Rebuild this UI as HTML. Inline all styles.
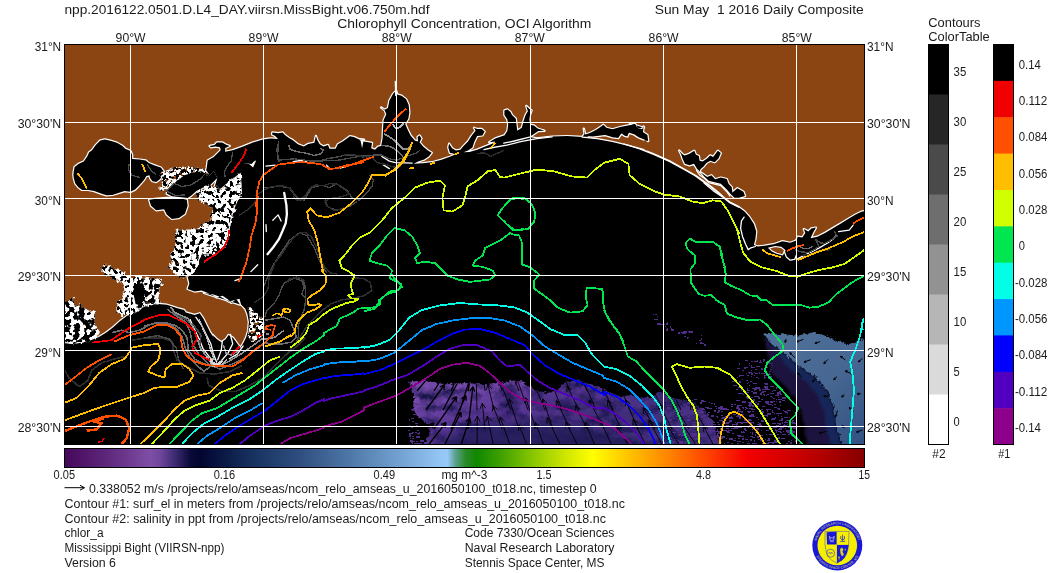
<!DOCTYPE html>
<html><head><meta charset="utf-8"><title>npp.2016122.0501.D.L4_DAY.viirsn.MissBight</title>
<style>html,body{margin:0;padding:0;background:#fff}body{width:1058px;height:573px;overflow:hidden}svg{display:block}text{font-family:"Liberation Sans",sans-serif;fill:#1a1a1a}</style></head><body>
<svg width="1058" height="573" viewBox="0 0 1058 573">
<defs>
<clipPath id="mapclip"><rect x="65" y="45" width="799" height="399"/></clipPath>
<linearGradient id="cb" x1="0" x2="1" y1="0" y2="0">
<stop offset="0.0000" stop-color="#46075a"/>
<stop offset="0.0575" stop-color="#602a7e"/>
<stop offset="0.1075" stop-color="#7e4ea6"/>
<stop offset="0.1200" stop-color="#6f459c"/>
<stop offset="0.1388" stop-color="#3a2a70"/>
<stop offset="0.1575" stop-color="#0a0a38"/>
<stop offset="0.1700" stop-color="#020530"/>
<stop offset="0.2325" stop-color="#16305e"/>
<stop offset="0.2950" stop-color="#2f4f80"/>
<stop offset="0.3575" stop-color="#4f78a8"/>
<stop offset="0.4200" stop-color="#73a2d2"/>
<stop offset="0.4700" stop-color="#93c5f5"/>
<stop offset="0.4788" stop-color="#96c8fa"/>
<stop offset="0.4888" stop-color="#5aa08c"/>
<stop offset="0.5012" stop-color="#2a8a2a"/>
<stop offset="0.5150" stop-color="#0f8800"/>
<stop offset="0.5450" stop-color="#3fa000"/>
<stop offset="0.5875" stop-color="#8cc800"/>
<stop offset="0.6262" stop-color="#cfe600"/>
<stop offset="0.6600" stop-color="#ffff00"/>
<stop offset="0.7013" stop-color="#ffc800"/>
<stop offset="0.7488" stop-color="#ff8c00"/>
<stop offset="0.8013" stop-color="#ff4600"/>
<stop offset="0.8525" stop-color="#f40000"/>
<stop offset="0.9200" stop-color="#c80000"/>
<stop offset="1.0000" stop-color="#860000"/>
</linearGradient>
</defs>
<g id="txt" opacity="0.999">
<text x="64.5" y="14.2" font-size="13" textLength="365" lengthAdjust="spacingAndGlyphs" xml:space="preserve">npp.2016122.0501.D.L4_DAY.viirsn.MissBight.v06.750m.hdf</text>
<text x="863.7" y="14.2" font-size="13" text-anchor="end" textLength="209" lengthAdjust="spacingAndGlyphs" xml:space="preserve">Sun May  1 2016 Daily Composite</text>
<text x="464.3" y="27.6" font-size="13" text-anchor="middle" textLength="254" lengthAdjust="spacingAndGlyphs" xml:space="preserve">Chlorophyll Concentration, OCI Algorithm</text>
<text x="130.6" y="42" font-size="12" text-anchor="middle" textLength="30" lengthAdjust="spacingAndGlyphs" xml:space="preserve">90°W</text>
<text x="263.6" y="42" font-size="12" text-anchor="middle" textLength="30" lengthAdjust="spacingAndGlyphs" xml:space="preserve">89°W</text>
<text x="396.7" y="42" font-size="12" text-anchor="middle" textLength="30" lengthAdjust="spacingAndGlyphs" xml:space="preserve">88°W</text>
<text x="529.8" y="42" font-size="12" text-anchor="middle" textLength="30" lengthAdjust="spacingAndGlyphs" xml:space="preserve">87°W</text>
<text x="663.6" y="42" font-size="12" text-anchor="middle" textLength="30" lengthAdjust="spacingAndGlyphs" xml:space="preserve">86°W</text>
<text x="796.8" y="42" font-size="12" text-anchor="middle" textLength="30" lengthAdjust="spacingAndGlyphs" xml:space="preserve">85°W</text>
<text x="61.2" y="50.8" font-size="12" text-anchor="end" textLength="26.5" lengthAdjust="spacingAndGlyphs" xml:space="preserve">31°N</text>
<text x="867" y="50.8" font-size="12" textLength="26.5" lengthAdjust="spacingAndGlyphs" xml:space="preserve">31°N</text>
<text x="61.2" y="128" font-size="12" text-anchor="end" textLength="43.5" lengthAdjust="spacingAndGlyphs" xml:space="preserve">30°30'N</text>
<text x="867" y="128" font-size="12" textLength="43.5" lengthAdjust="spacingAndGlyphs" xml:space="preserve">30°30'N</text>
<text x="61.2" y="205" font-size="12" text-anchor="end" textLength="26.5" lengthAdjust="spacingAndGlyphs" xml:space="preserve">30°N</text>
<text x="867" y="205" font-size="12" textLength="26.5" lengthAdjust="spacingAndGlyphs" xml:space="preserve">30°N</text>
<text x="61.2" y="281" font-size="12" text-anchor="end" textLength="43.5" lengthAdjust="spacingAndGlyphs" xml:space="preserve">29°30'N</text>
<text x="867" y="281" font-size="12" textLength="43.5" lengthAdjust="spacingAndGlyphs" xml:space="preserve">29°30'N</text>
<text x="61.2" y="357" font-size="12" text-anchor="end" textLength="26.5" lengthAdjust="spacingAndGlyphs" xml:space="preserve">29°N</text>
<text x="867" y="357" font-size="12" textLength="26.5" lengthAdjust="spacingAndGlyphs" xml:space="preserve">29°N</text>
<text x="61.2" y="432" font-size="12" text-anchor="end" textLength="43.5" lengthAdjust="spacingAndGlyphs" xml:space="preserve">28°30'N</text>
<text x="867" y="432" font-size="12" textLength="43.5" lengthAdjust="spacingAndGlyphs" xml:space="preserve">28°30'N</text>
<text x="64.3" y="479.3" font-size="12" text-anchor="middle" textLength="21.5" lengthAdjust="spacingAndGlyphs" xml:space="preserve">0.05</text>
<text x="224.4" y="479.3" font-size="12" text-anchor="middle" textLength="21.5" lengthAdjust="spacingAndGlyphs" xml:space="preserve">0.16</text>
<text x="384.3" y="479.3" font-size="12" text-anchor="middle" textLength="21.5" lengthAdjust="spacingAndGlyphs" xml:space="preserve">0.49</text>
<text x="464.4" y="479.3" font-size="12" text-anchor="middle" textLength="46" lengthAdjust="spacingAndGlyphs" xml:space="preserve">mg m^-3</text>
<text x="543.9" y="479.3" font-size="12" text-anchor="middle" textLength="15" lengthAdjust="spacingAndGlyphs" xml:space="preserve">1.5</text>
<text x="703.6" y="479.3" font-size="12" text-anchor="middle" textLength="15" lengthAdjust="spacingAndGlyphs" xml:space="preserve">4.8</text>
<text x="864.2" y="479.3" font-size="12" text-anchor="middle" textLength="11.5" lengthAdjust="spacingAndGlyphs" xml:space="preserve">15</text>
<text x="89" y="493" font-size="12" textLength="507.6" lengthAdjust="spacingAndGlyphs" xml:space="preserve">0.338052 m/s /projects/relo/amseas/ncom_relo_amseas_u_2016050100_t018.nc, timestep 0</text>
<text x="64.5" y="507.7" font-size="12" textLength="560.4" lengthAdjust="spacingAndGlyphs" xml:space="preserve">Contour #1: surf_el in meters from /projects/relo/amseas/ncom_relo_amseas_u_2016050100_t018.nc</text>
<text x="64.5" y="522.5" font-size="12" textLength="541.4" lengthAdjust="spacingAndGlyphs" xml:space="preserve">Contour #2: salinity in ppt from /projects/relo/amseas/ncom_relo_amseas_u_2016050100_t018.nc</text>
<text x="64.5" y="537.3" font-size="12" textLength="39" lengthAdjust="spacingAndGlyphs" xml:space="preserve">chlor_a</text>
<text x="64.5" y="552.3" font-size="12" textLength="160" lengthAdjust="spacingAndGlyphs" xml:space="preserve">Mississippi Bight (VIIRSN-npp)</text>
<text x="64.5" y="567.1" font-size="12" textLength="51.5" lengthAdjust="spacingAndGlyphs" xml:space="preserve">Version 6</text>
<text x="464.7" y="537.3" font-size="12" textLength="149.7" lengthAdjust="spacingAndGlyphs" xml:space="preserve">Code 7330/Ocean Sciences</text>
<text x="464.7" y="552.3" font-size="12" textLength="149.7" lengthAdjust="spacingAndGlyphs" xml:space="preserve">Naval Research Laboratory</text>
<text x="464.7" y="567.1" font-size="12" textLength="139.8" lengthAdjust="spacingAndGlyphs" xml:space="preserve">Stennis Space Center, MS</text>
<text x="928.3" y="26.6" font-size="12" textLength="52.2" lengthAdjust="spacingAndGlyphs" xml:space="preserve">Contours</text>
<text x="928.3" y="40.9" font-size="12" textLength="61.4" lengthAdjust="spacingAndGlyphs" xml:space="preserve">ColorTable</text>
<text x="939" y="458.4" font-size="12" text-anchor="middle" textLength="13.3" lengthAdjust="spacingAndGlyphs" xml:space="preserve">#2</text>
<text x="1004.3" y="458.4" font-size="12" text-anchor="middle" textLength="12" lengthAdjust="spacingAndGlyphs" xml:space="preserve">#1</text>
<text x="953.6" y="75.7" font-size="12" textLength="12.7" lengthAdjust="spacingAndGlyphs" xml:space="preserve">35</text>
<text x="953.6" y="125.7" font-size="12" textLength="12.7" lengthAdjust="spacingAndGlyphs" xml:space="preserve">30</text>
<text x="953.6" y="175.7" font-size="12" textLength="12.7" lengthAdjust="spacingAndGlyphs" xml:space="preserve">25</text>
<text x="953.6" y="225.7" font-size="12" textLength="12.7" lengthAdjust="spacingAndGlyphs" xml:space="preserve">20</text>
<text x="953.6" y="275.7" font-size="12" textLength="12.7" lengthAdjust="spacingAndGlyphs" xml:space="preserve">15</text>
<text x="953.6" y="325.7" font-size="12" textLength="12.7" lengthAdjust="spacingAndGlyphs" xml:space="preserve">10</text>
<text x="953.6" y="375.7" font-size="12" textLength="6.2" lengthAdjust="spacingAndGlyphs" xml:space="preserve">5</text>
<text x="953.6" y="425.7" font-size="12" textLength="6.2" lengthAdjust="spacingAndGlyphs" xml:space="preserve">0</text>
<text x="1018.8" y="68.6" font-size="12" textLength="22" lengthAdjust="spacingAndGlyphs" xml:space="preserve">0.14</text>
<text x="1018.8" y="104.96" font-size="12" textLength="28.5" lengthAdjust="spacingAndGlyphs" xml:space="preserve">0.112</text>
<text x="1018.8" y="141.32" font-size="12" textLength="28.5" lengthAdjust="spacingAndGlyphs" xml:space="preserve">0.084</text>
<text x="1018.8" y="177.68" font-size="12" textLength="28.5" lengthAdjust="spacingAndGlyphs" xml:space="preserve">0.056</text>
<text x="1018.8" y="214.04" font-size="12" textLength="28.5" lengthAdjust="spacingAndGlyphs" xml:space="preserve">0.028</text>
<text x="1018.8" y="250.4" font-size="12" textLength="6.2" lengthAdjust="spacingAndGlyphs" xml:space="preserve">0</text>
<text x="1014.9" y="286.76" font-size="12" textLength="32.5" lengthAdjust="spacingAndGlyphs" xml:space="preserve">-0.028</text>
<text x="1014.9" y="323.12" font-size="12" textLength="32.5" lengthAdjust="spacingAndGlyphs" xml:space="preserve">-0.056</text>
<text x="1014.9" y="359.48" font-size="12" textLength="32.5" lengthAdjust="spacingAndGlyphs" xml:space="preserve">-0.084</text>
<text x="1014.9" y="395.84000000000003" font-size="12" textLength="32.5" lengthAdjust="spacingAndGlyphs" xml:space="preserve">-0.112</text>
<text x="1014.9" y="432.20000000000005" font-size="12" textLength="26" lengthAdjust="spacingAndGlyphs" xml:space="preserve">-0.14</text>
</g>
<path d="M64.5,487.7H84" stroke="#000" stroke-width="1" fill="none"/><path d="M80,485.3L84.6,487.7L80,490.1" stroke="#000" stroke-width="1" fill="none"/>
<rect x="64.5" y="448.5" width="800" height="19" fill="url(#cb)" stroke="#000" stroke-width="1"/>
<rect x="928" y="44.5" width="21" height="50.5" fill="#000000"/>
<rect x="928" y="94.5" width="21" height="50.5" fill="#262626"/>
<rect x="928" y="144.5" width="21" height="50.5" fill="#4a4a4a"/>
<rect x="928" y="194.5" width="21" height="50.5" fill="#6e6e6e"/>
<rect x="928" y="244.5" width="21" height="50.5" fill="#929292"/>
<rect x="928" y="294.5" width="21" height="50.5" fill="#b6b6b6"/>
<rect x="928" y="344.5" width="21" height="50.5" fill="#dadada"/>
<rect x="928" y="394.5" width="21" height="50.5" fill="#ffffff"/>
<rect x="928.5" y="44.5" width="20" height="400" fill="none" stroke="#000" stroke-width="1"/>
<rect x="993" y="44.50" width="21" height="36.9" fill="#000000"/>
<rect x="993" y="80.86" width="21" height="36.9" fill="#f00000"/>
<rect x="993" y="117.23" width="21" height="36.9" fill="#ff5000"/>
<rect x="993" y="153.59" width="21" height="36.9" fill="#ffbe00"/>
<rect x="993" y="189.96" width="21" height="36.9" fill="#d2ff00"/>
<rect x="993" y="226.32" width="21" height="36.9" fill="#00e650"/>
<rect x="993" y="262.68" width="21" height="36.9" fill="#00ffe6"/>
<rect x="993" y="299.05" width="21" height="36.9" fill="#0096ff"/>
<rect x="993" y="335.41" width="21" height="36.9" fill="#0000ff"/>
<rect x="993" y="371.78" width="21" height="36.9" fill="#5000be"/>
<rect x="993" y="408.14" width="21" height="36.9" fill="#8c008c"/>
<rect x="993.5" y="44.5" width="20" height="400" fill="none" stroke="#000" stroke-width="1"/>
<rect x="64" y="44" width="801" height="401" fill="#8B4513"/>
<g clip-path="url(#mapclip)">
<path d="M73.8,171.4 L74.6,166.9 L78.4,163.9 L83.7,161.6 L87.4,156.3 L89,152.5 L92,150.2 L95.8,145 L100.3,140.4 L104.8,139.4 L109.4,140.4 L116.9,142.7 L122.2,145.7 L125.2,148.7 L130.5,151 L132.1,154.8 L132.1,159 L139.6,159.6 L145.7,160.5 L148.7,163.1 L154.7,165.4 L160.8,167.6 L163.8,171.4 L163.1,175.2 L159.3,179.7 L156.2,182 L152.5,181.2 L150.2,178.2 L149.4,175.2 L146.4,176 L144.2,179.7 L139.6,185 L135.1,189.6 L130.5,191.8 L124.5,191.1 L120,192.6 L112.4,194.9 L106.3,195.3 L100.3,193.3 L94.2,191.1 L88.2,189.9 L82.1,189.9 L78.4,187.3 L75.3,183.5 L73.8,178.2 L73.4,174.4Z" fill="#000" stroke="#fff" stroke-width="2.4" stroke-linejoin="round"/>
<path d="M166.7,193.6 L168.4,188.4 L173.7,184 L178.9,178.8 L184.1,174.4 L192.9,171.8 L201.6,170.1 L205.1,174.4 L208.6,176.2 L213.8,170.9 L217.3,177.9 L210.3,184.9 L203.3,187.5 L196.4,191 L191.1,195.7 L187.6,198 L178.9,197.1 L171.9,196.2Z" fill="#000" stroke="#fff" stroke-width="2.4" stroke-linejoin="round"/>
<path d="M149.2,199.7 L154.5,198.9 L166.7,198 L178.9,198 L186.8,199.7 L187.6,205.8 L185,213.7 L178.9,218.1 L171.9,218.9 L166.7,214.6 L164.1,209.3 L156.2,210.2 L151,205.8Z" fill="#000" stroke="#fff" stroke-width="2.4" stroke-linejoin="round"/>
<path d="M62.6,343.2 L74.5,344 L83.2,342.3 L90.2,340.5 L98.9,337 L105.9,332.7 L112.9,327.4 L119.8,321.3 L126.8,316.1 L133.8,311.7 L140.8,308.2 L149.5,304.8 L158.2,303.9 L167,304.8 L172.2,306.5 L177.4,308.2 L184.1,310 L185.9,312.4 L194.6,315 L199.8,313.3 L203.3,318.5 L206.8,325.5 L210.3,332.5 L213.8,337.7 L212.7,334.9 L217,339.3 L221.4,342.2 L225.7,339.3 L228.6,334.9 L233,337.8 L237.3,343.6 L240.2,348 L243.1,343.6 L246,337.8 L248.2,330.6 L248.9,321.9 L247.5,314.6 L245.3,308.8 L241,304.5 L239.5,298.7 L235.2,300.1 L228.6,301.6 L221.4,297.2 L212.7,294.3 L204,292.9 L240,304.6 L236.5,299.3 L231.3,302.8 L227.8,299.3 L222.5,295.8 L217.3,297.6 L210.3,294.1 L201.6,290.6 L194.6,291.5 L187.6,288.9 L189.4,283.6 L187.6,276.6 L195.5,269.7 L198.1,262.7 L203.3,250.5 L208.6,240 L220.8,250 L227.8,240.8 L229.5,230.3 L231.3,219.8 L234.8,207.6 L241.7,191.9 L240.9,172.7 L231.3,179.7 L220.8,188.4 L213.8,190.1 L217.3,177.9 L213.8,170.9 L208.6,176.2 L205.1,174.4 L206.8,167.5 L207.7,160.5 L213.8,157 L220.8,150 L219.9,147.2 L215.3,146.5 L210.8,147.2 L209.7,146 L214.6,145 L216.9,142.4 L222.1,142.4 L226.7,145 L229.7,146 L225.2,148 L225.2,151.8 L232.7,150.2 L241.8,146.9 L252.4,142.7 L263,139.4 L270.5,138.4 L278.1,138.9 L275.1,135.9 L272.1,134.4 L272.4,132.4 L278.1,133.3 L282.6,132.4 L284.9,135.1 L288.7,137.8 L293.2,140.4 L297.8,144.2 L303.8,146.5 L308.3,143.9 L314.4,142.7 L315.9,135.9 L317.1,139.7 L319.7,144.2 L323.5,146.5 L328,145 L329.5,148.7 L335.6,148.7 L337.8,144.2 L343.1,141.2 L346.2,138.9 L349.9,136.3 L353.7,136.9 L358.3,138.9 L364,139.7 L347,138.4 L350.8,136.6 L356.1,138.1 L360.6,140.7 L362.1,148.2 L363.4,141.4 L368.2,142.2 L372,142.9 L371.2,148.2 L375,149.7 L378,146.7 L381.1,146 L382.6,138.4 L383,129.3 L383.6,120.2 L386.3,114.2 L384.8,110.4 L381.1,107.4 L384.8,109.7 L387.9,108.1 L389.4,100.6 L393.1,93.8 L396.2,90.8 L397.2,94.5 L401.5,95.7 L406,99.1 L408.7,105.1 L409.3,112.7 L408.3,118.7 L405.2,124 L407.5,129.3 L410.5,135.4 L415.1,140.7 L418.1,141.4 L417.6,136.9 L419.6,135.4 L421.4,138.4 L419.6,142.2 L423.4,146.7 L427.9,150.5 L431.7,152.8 L428.7,156.5 L424.2,159.6 L418.1,161.4 L413.6,163.8 L422.6,163.3 L431.7,162.3 L440.8,159.9 L449.9,156.8 L455.9,154.3 L449.9,152.8 L448.3,147.5 L449.1,143.7 L452.1,148.2 L455.9,150.5 L460.4,149.7 L463.5,146 L468,141.4 L471.8,135.4 L475.6,130.8 L474.1,127.8 L477.1,129 L481.6,129 L484.6,131.6 L482.4,135.4 L477.1,136.1 L474.1,142.2 L472.5,147.5 L468,150.5 L463.5,152.3 L469.5,152 L477.1,149.7 L484.6,146.7 L492.2,143.7 L495.2,141.4 L489.2,142.2 L495.2,138.4 L504,135.4 L504.4,135.4 L507.4,130.8 L508.2,124.8 L507.4,119.5 L504.4,115 L504.4,110.4 L507.4,109.4 L510.5,111.9 L512,115 L515.8,118.7 L516.5,124.8 L517.3,130.8 L521.8,127.8 L523.6,121 L525.6,115 L527.9,111.2 L526.3,105.9 L529.4,108.9 L531.6,110.4 L530.1,114.2 L529.4,119.5 L530.1,124.8 L533.9,125.5 L537.7,128.6 L544.5,130.8 L538.4,131.1 L533.9,133.9 L529.4,136.9 L536.9,138.4 L552.1,136.6 L567.2,136.1 L582.3,136.9 L584.6,133.9 L583.8,128.6 L585.3,134.6 L589.9,133.1 L595.9,130.1 L600.4,127.1 L603.5,124.8 L606.5,127.8 L612.5,129.3 L620.1,127.1 L627.7,125.5 L632.2,124.8 L635.2,124 L636.7,127.1 L641.3,129.3 L644,127.8 L630,123.6 L635.3,124.4 L639.1,128.9 L643.7,126.6 L642.9,131.9 L647.4,135 L648.2,141 L643.7,140.2 L637.6,138 L631.6,134.2 L628.5,134.2 L629.3,138.7 L624,137.2 L624,144 L639.1,148.6 L654.2,154.6 L669.4,161.4 L684.5,169.7 L695.1,175.8 L702.6,181.1 L710.2,186.4 L717.8,192.4 L722.1,196.6 L729.7,202.7 L738.8,207.2 L744.8,211.8 L749.4,217.1 L753.9,223.9 L756.2,231.4 L755.4,239 L753.9,245 L757.7,246.5 L764.5,245.8 L773.6,244.3 L782.6,241.2 L790.2,242.8 L796.2,240.5 L797.8,236.7 L802.3,237.5 L805.3,232.9 L803.8,229.1 L808.3,231.4 L811.4,228.4 L815.9,227.6 L812.9,232.9 L810.6,238.2 L817.4,236.7 L825,232.9 L832.5,228.4 L840.1,223.9 L847.7,219.3 L855.2,214.8 L861.3,211.8 L865.8,211 L870,450 L58,450Z" fill="#000" stroke="#fff" stroke-width="2.4" stroke-linejoin="round"/>
<path d="M679.2,150.5 L682.2,153.9 L684.5,155.4 L689,153.9 L694.3,150.8 L695.8,154.6 L698.9,156.1 L699.6,160.7 L702.6,161.4 L707.2,158.4 L710.2,155.4 L713.2,156.9 L717.8,150.8 L720.8,153.1 L718.5,158.4 L714.7,162.2 L710.2,160.7 L706.4,162.9 L703.4,166.7 L700.4,169.3 L699.6,171.7 L703.4,174.3 L707.2,177 L711.4,175.3 L715.2,179.3 L720.8,177.6 L726.8,179.1 L728.7,184.1 L731.7,187.1 L732.4,192.4 L737.4,188.2 L743.5,191.7 L745,196 L738.9,197.7 L734.4,197.7 L729.9,193.2 L726.8,189.4 L720.8,183.8 L714.7,182.3 L708.7,180.8 L704.2,176.5 L700.1,171.7 L697,168.8 L694,163.8 L689.5,165.3 L684.9,163.8 L682.7,159 L681.2,154.5Z" fill="#000" stroke="#fff" stroke-width="2.4" stroke-linejoin="round"/>
<path d="M73.8,171.4 L74.6,166.9 L78.4,163.9 L83.7,161.6 L87.4,156.3 L89,152.5 L92,150.2 L95.8,145 L100.3,140.4 L104.8,139.4 L109.4,140.4 L116.9,142.7 L122.2,145.7 L125.2,148.7 L130.5,151 L132.1,154.8 L132.1,159 L139.6,159.6 L145.7,160.5 L148.7,163.1 L154.7,165.4 L160.8,167.6 L163.8,171.4 L163.1,175.2 L159.3,179.7 L156.2,182 L152.5,181.2 L150.2,178.2 L149.4,175.2 L146.4,176 L144.2,179.7 L139.6,185 L135.1,189.6 L130.5,191.8 L124.5,191.1 L120,192.6 L112.4,194.9 L106.3,195.3 L100.3,193.3 L94.2,191.1 L88.2,189.9 L82.1,189.9 L78.4,187.3 L75.3,183.5 L73.8,178.2 L73.4,174.4Z" fill="#000"/>
<path d="M166.7,193.6 L168.4,188.4 L173.7,184 L178.9,178.8 L184.1,174.4 L192.9,171.8 L201.6,170.1 L205.1,174.4 L208.6,176.2 L213.8,170.9 L217.3,177.9 L210.3,184.9 L203.3,187.5 L196.4,191 L191.1,195.7 L187.6,198 L178.9,197.1 L171.9,196.2Z" fill="#000"/>
<path d="M149.2,199.7 L154.5,198.9 L166.7,198 L178.9,198 L186.8,199.7 L187.6,205.8 L185,213.7 L178.9,218.1 L171.9,218.9 L166.7,214.6 L164.1,209.3 L156.2,210.2 L151,205.8Z" fill="#000"/>
<path d="M62.6,343.2 L74.5,344 L83.2,342.3 L90.2,340.5 L98.9,337 L105.9,332.7 L112.9,327.4 L119.8,321.3 L126.8,316.1 L133.8,311.7 L140.8,308.2 L149.5,304.8 L158.2,303.9 L167,304.8 L172.2,306.5 L177.4,308.2 L184.1,310 L185.9,312.4 L194.6,315 L199.8,313.3 L203.3,318.5 L206.8,325.5 L210.3,332.5 L213.8,337.7 L212.7,334.9 L217,339.3 L221.4,342.2 L225.7,339.3 L228.6,334.9 L233,337.8 L237.3,343.6 L240.2,348 L243.1,343.6 L246,337.8 L248.2,330.6 L248.9,321.9 L247.5,314.6 L245.3,308.8 L241,304.5 L239.5,298.7 L235.2,300.1 L228.6,301.6 L221.4,297.2 L212.7,294.3 L204,292.9 L240,304.6 L236.5,299.3 L231.3,302.8 L227.8,299.3 L222.5,295.8 L217.3,297.6 L210.3,294.1 L201.6,290.6 L194.6,291.5 L187.6,288.9 L189.4,283.6 L187.6,276.6 L195.5,269.7 L198.1,262.7 L203.3,250.5 L208.6,240 L220.8,250 L227.8,240.8 L229.5,230.3 L231.3,219.8 L234.8,207.6 L241.7,191.9 L240.9,172.7 L231.3,179.7 L220.8,188.4 L213.8,190.1 L217.3,177.9 L213.8,170.9 L208.6,176.2 L205.1,174.4 L206.8,167.5 L207.7,160.5 L213.8,157 L220.8,150 L219.9,147.2 L215.3,146.5 L210.8,147.2 L209.7,146 L214.6,145 L216.9,142.4 L222.1,142.4 L226.7,145 L229.7,146 L225.2,148 L225.2,151.8 L232.7,150.2 L241.8,146.9 L252.4,142.7 L263,139.4 L270.5,138.4 L278.1,138.9 L275.1,135.9 L272.1,134.4 L272.4,132.4 L278.1,133.3 L282.6,132.4 L284.9,135.1 L288.7,137.8 L293.2,140.4 L297.8,144.2 L303.8,146.5 L308.3,143.9 L314.4,142.7 L315.9,135.9 L317.1,139.7 L319.7,144.2 L323.5,146.5 L328,145 L329.5,148.7 L335.6,148.7 L337.8,144.2 L343.1,141.2 L346.2,138.9 L349.9,136.3 L353.7,136.9 L358.3,138.9 L364,139.7 L347,138.4 L350.8,136.6 L356.1,138.1 L360.6,140.7 L362.1,148.2 L363.4,141.4 L368.2,142.2 L372,142.9 L371.2,148.2 L375,149.7 L378,146.7 L381.1,146 L382.6,138.4 L383,129.3 L383.6,120.2 L386.3,114.2 L384.8,110.4 L381.1,107.4 L384.8,109.7 L387.9,108.1 L389.4,100.6 L393.1,93.8 L396.2,90.8 L397.2,94.5 L401.5,95.7 L406,99.1 L408.7,105.1 L409.3,112.7 L408.3,118.7 L405.2,124 L407.5,129.3 L410.5,135.4 L415.1,140.7 L418.1,141.4 L417.6,136.9 L419.6,135.4 L421.4,138.4 L419.6,142.2 L423.4,146.7 L427.9,150.5 L431.7,152.8 L428.7,156.5 L424.2,159.6 L418.1,161.4 L413.6,163.8 L422.6,163.3 L431.7,162.3 L440.8,159.9 L449.9,156.8 L455.9,154.3 L449.9,152.8 L448.3,147.5 L449.1,143.7 L452.1,148.2 L455.9,150.5 L460.4,149.7 L463.5,146 L468,141.4 L471.8,135.4 L475.6,130.8 L474.1,127.8 L477.1,129 L481.6,129 L484.6,131.6 L482.4,135.4 L477.1,136.1 L474.1,142.2 L472.5,147.5 L468,150.5 L463.5,152.3 L469.5,152 L477.1,149.7 L484.6,146.7 L492.2,143.7 L495.2,141.4 L489.2,142.2 L495.2,138.4 L504,135.4 L504.4,135.4 L507.4,130.8 L508.2,124.8 L507.4,119.5 L504.4,115 L504.4,110.4 L507.4,109.4 L510.5,111.9 L512,115 L515.8,118.7 L516.5,124.8 L517.3,130.8 L521.8,127.8 L523.6,121 L525.6,115 L527.9,111.2 L526.3,105.9 L529.4,108.9 L531.6,110.4 L530.1,114.2 L529.4,119.5 L530.1,124.8 L533.9,125.5 L537.7,128.6 L544.5,130.8 L538.4,131.1 L533.9,133.9 L529.4,136.9 L536.9,138.4 L552.1,136.6 L567.2,136.1 L582.3,136.9 L584.6,133.9 L583.8,128.6 L585.3,134.6 L589.9,133.1 L595.9,130.1 L600.4,127.1 L603.5,124.8 L606.5,127.8 L612.5,129.3 L620.1,127.1 L627.7,125.5 L632.2,124.8 L635.2,124 L636.7,127.1 L641.3,129.3 L644,127.8 L630,123.6 L635.3,124.4 L639.1,128.9 L643.7,126.6 L642.9,131.9 L647.4,135 L648.2,141 L643.7,140.2 L637.6,138 L631.6,134.2 L628.5,134.2 L629.3,138.7 L624,137.2 L624,144 L639.1,148.6 L654.2,154.6 L669.4,161.4 L684.5,169.7 L695.1,175.8 L702.6,181.1 L710.2,186.4 L717.8,192.4 L722.1,196.6 L729.7,202.7 L738.8,207.2 L744.8,211.8 L749.4,217.1 L753.9,223.9 L756.2,231.4 L755.4,239 L753.9,245 L757.7,246.5 L764.5,245.8 L773.6,244.3 L782.6,241.2 L790.2,242.8 L796.2,240.5 L797.8,236.7 L802.3,237.5 L805.3,232.9 L803.8,229.1 L808.3,231.4 L811.4,228.4 L815.9,227.6 L812.9,232.9 L810.6,238.2 L817.4,236.7 L825,232.9 L832.5,228.4 L840.1,223.9 L847.7,219.3 L855.2,214.8 L861.3,211.8 L865.8,211 L870,450 L58,450Z" fill="#000"/>
<path d="M679.2,150.5 L682.2,153.9 L684.5,155.4 L689,153.9 L694.3,150.8 L695.8,154.6 L698.9,156.1 L699.6,160.7 L702.6,161.4 L707.2,158.4 L710.2,155.4 L713.2,156.9 L717.8,150.8 L720.8,153.1 L718.5,158.4 L714.7,162.2 L710.2,160.7 L706.4,162.9 L703.4,166.7 L700.4,169.3 L699.6,171.7 L703.4,174.3 L707.2,177 L711.4,175.3 L715.2,179.3 L720.8,177.6 L726.8,179.1 L728.7,184.1 L731.7,187.1 L732.4,192.4 L737.4,188.2 L743.5,191.7 L745,196 L738.9,197.7 L734.4,197.7 L729.9,193.2 L726.8,189.4 L720.8,183.8 L714.7,182.3 L708.7,180.8 L704.2,176.5 L700.1,171.7 L697,168.8 L694,163.8 L689.5,165.3 L684.9,163.8 L682.7,159 L681.2,154.5Z" fill="#000"/>
<defs><linearGradient id="pg" gradientUnits="userSpaceOnUse" x1="500" y1="378" x2="520" y2="446"><stop offset="0" stop-color="#7449aa"/><stop offset="0.4" stop-color="#5b3796"/><stop offset="1" stop-color="#45307f"/></linearGradient><filter id="blr" x="-20%" y="-50%" width="140%" height="200%"><feGaussianBlur stdDeviation="5"/></filter>
<linearGradient id="bg" gradientUnits="userSpaceOnUse" x1="780" y1="340" x2="864" y2="440"><stop offset="0" stop-color="#4f7098"/><stop offset="0.5" stop-color="#466691"/><stop offset="1" stop-color="#335282"/></linearGradient>
<filter id="rag" x="-5%" y="-5%" width="110%" height="110%"><feTurbulence type="fractalNoise" baseFrequency="0.3" numOctaves="2" seed="9"/><feDisplacementMap in="SourceGraphic" scale="5" xChannelSelector="R" yChannelSelector="G"/></filter>
<filter id="rag2" x="-10%" y="-10%" width="120%" height="120%"><feTurbulence type="fractalNoise" baseFrequency="0.3" numOctaves="2" seed="9"/><feDisplacementMap in="SourceGraphic" scale="5" xChannelSelector="R" yChannelSelector="G"/><feGaussianBlur stdDeviation="1.6"/></filter>
<filter id="tex" x="0" y="0" width="100%" height="100%" color-interpolation-filters="sRGB"><feTurbulence type="fractalNoise" baseFrequency="0.05 0.09" numOctaves="3" seed="21" result="n"/><feColorMatrix in="n" type="matrix" values="0 0 0 0 0.06 0 0 0 0 0.06 0 0 0 0 0.25 0 0 0 2.0 -0.8" result="d"/><feComposite in="d" in2="SourceGraphic" operator="in" result="dd"/><feMerge><feMergeNode in="SourceGraphic"/><feMergeNode in="dd"/></feMerge></filter>
<clipPath id="p1c"><path d="M421.8,445.7 L429.3,435.7 L429.3,425.6 L419.3,418.1 L413,408 L414.3,395.5 L409.2,381.7 L426.8,380.4 L444.4,384.2 L464.5,382.9 L484.6,384.2 L499.7,382.9 L514.8,380.4 L524.1,381.7 L524,384.1 L534.5,389.4 L546.7,392.9 L558.9,389.4 L564.1,382.4 L576.4,379.8 L586.8,383.3 L599,386.8 L611.3,393.7 L621.7,396.4 L632.2,394.6 L642.7,398.1 L653.1,396.4 L660.1,391.1 L668.9,396.4 L681.1,399.8 L691.5,401.6 L703.9,410.3 L712,420 L722,450 L364,450Z"/></clipPath></defs>
<g filter="url(#rag)">
<path d="M421.8,445.7 L429.3,435.7 L429.3,425.6 L419.3,418.1 L413,408 L414.3,395.5 L409.2,381.7 L426.8,380.4 L444.4,384.2 L464.5,382.9 L484.6,384.2 L499.7,382.9 L514.8,380.4 L524.1,381.7 L524,384.1 L534.5,389.4 L546.7,392.9 L558.9,389.4 L564.1,382.4 L576.4,379.8 L586.8,383.3 L599,386.8 L611.3,393.7 L621.7,396.4 L632.2,394.6 L642.7,398.1 L653.1,396.4 L660.1,391.1 L668.9,396.4 L681.1,399.8 L691.5,401.6 L703.9,410.3 L712,420 L722,450 L364,450Z" fill="url(#pg)" filter="url(#tex)"/>
</g>
<g clip-path="url(#p1c)"><path d="M436,456L452,434L480,425L520,421L560,424L600,431L640,440L665,456Z" fill="#221b58" opacity="0.8" filter="url(#blr)"/><path d="M520,392L570,400L620,412L660,425L690,436L690,442L640,428L590,415L540,404Z" fill="#1a1c52" opacity="0.22" filter="url(#blr)"/></g>
<path d="M755,387h3v1h-3zM679,410h3v1h-3zM697,418h1v1h-1zM724,417h3v1h-3zM743,426h1v1h-1zM717,417h1v1h-1zM751,414h3v2h-3zM772,412h2v1h-2zM707,433h4v1h-4zM734,404h2v1h-2zM713,442h2v1h-2zM743,432h2v1h-2zM761,420h3v2h-3zM703,427h1v1h-1zM766,402h3v2h-3zM705,407h4v1h-4zM670,412h1v1h-1zM706,429h2v2h-2zM689,408h2v1h-2zM778,437h2v2h-2zM780,394h2v1h-2zM687,416h3v1h-3zM737,422h4v1h-4zM729,438h4v2h-4zM721,408h2v2h-2zM681,406h1v1h-1zM785,421h1v1h-1zM733,444h2v2h-2zM769,429h2v1h-2zM760,440h3v1h-3zM761,399h2v1h-2zM740,414h4v1h-4zM750,432h1v1h-1zM778,429h1v1h-1zM737,405h1v1h-1zM774,413h1v1h-1zM727,442h2v1h-2zM731,404h2v1h-2zM732,424h4v1h-4zM720,428h1v2h-1zM787,410h4v1h-4zM679,442h4v2h-4zM730,430h1v1h-1zM687,440h4v1h-4zM750,420h2v1h-2zM688,417h1v1h-1zM775,429h1v1h-1zM726,438h1v1h-1zM701,401h1v1h-1zM702,409h1v1h-1zM729,420h3v2h-3zM779,438h1v1h-1zM667,433h1v1h-1zM731,428h3v1h-3zM711,415h3v2h-3zM773,390h3v1h-3zM701,400h1v2h-1zM743,431h1v2h-1zM711,444h3v1h-3zM761,411h3v2h-3zM738,438h2v1h-2zM683,411h1v1h-1zM772,442h4v1h-4zM686,438h2v1h-2zM768,389h2v1h-2zM689,410h3v2h-3zM710,428h1v1h-1zM742,411h1v2h-1zM712,422h3v1h-3zM682,441h1v1h-1zM769,434h4v1h-4zM722,417h3v2h-3zM762,389h1v1h-1zM776,388h1v1h-1zM668,445h2v1h-2zM763,442h1v1h-1zM709,402h1v1h-1zM727,425h2v1h-2zM776,445h1v1h-1zM669,415h1v2h-1zM700,411h4v2h-4zM756,417h2v1h-2zM760,445h2v1h-2zM780,427h4v1h-4zM676,429h2v2h-2zM781,438h4v1h-4zM748,426h1v2h-1zM692,400h1v1h-1zM671,438h1v1h-1zM692,404h1v2h-1zM705,424h1v1h-1zM679,434h1v2h-1zM746,408h2v1h-2zM752,388h3v1h-3zM756,428h3v2h-3zM771,428h2v1h-2zM705,422h1v1h-1zM779,428h3v2h-3zM766,434h1v1h-1zM779,420h4v1h-4zM753,443h2v2h-2zM743,422h4v1h-4zM775,430h3v1h-3zM756,387h4v2h-4zM703,429h1v1h-1zM767,444h2v2h-2zM677,440h2v1h-2zM751,423h1v1h-1zM712,424h4v1h-4zM751,391h2v1h-2zM733,444h1v1h-1zM758,401h3v1h-3zM730,412h1v1h-1zM677,415h2v1h-2zM719,440h1v1h-1zM746,392h3v1h-3zM778,415h1v1h-1zM698,439h2v2h-2zM734,411h2v1h-2zM683,404h2v1h-2zM793,428h4v1h-4zM720,438h1v1h-1zM792,430h1v1h-1zM681,435h2v1h-2zM701,400h3v1h-3zM693,406h2v1h-2zM777,423h3v1h-3zM764,386h4v2h-4zM728,430h4v1h-4zM733,440h3v1h-3zM690,409h2v1h-2zM702,429h4v1h-4zM732,425h1v1h-1zM754,388h3v2h-3zM741,411h2v2h-2zM725,417h1v1h-1zM691,418h2v1h-2zM717,434h1v1h-1zM769,409h2v1h-2zM735,422h1v1h-1zM721,411h2v1h-2zM684,410h2v2h-2zM667,407h3v2h-3zM738,426h4v2h-4zM678,432h1v1h-1zM698,441h4v1h-4zM738,410h1v1h-1zM676,416h3v1h-3zM708,412h2v1h-2zM700,443h4v1h-4zM787,424h1v1h-1zM698,410h2v1h-2zM734,427h4v2h-4zM716,408h1v1h-1zM767,415h1v2h-1zM778,397h1v1h-1zM770,401h3v2h-3zM750,439h2v2h-2zM748,441h1v1h-1zM670,420h2v1h-2zM763,394h2v1h-2zM766,446h1v1h-1zM693,424h3v2h-3zM671,425h2v1h-2zM678,409h1v1h-1zM718,431h2v2h-2zM679,427h1v1h-1zM740,411h2v1h-2zM767,413h4v2h-4zM700,422h2v1h-2zM718,412h1v1h-1zM749,406h2v1h-2zM702,428h2v1h-2zM707,428h3v1h-3zM731,443h2v1h-2zM791,434h1v2h-1zM692,433h4v1h-4zM778,431h3v1h-3zM711,403h2v1h-2zM736,407h1v1h-1zM722,424h2v1h-2zM689,410h1v1h-1zM680,414h4v2h-4zM729,439h1v1h-1zM773,401h2v1h-2zM717,429h1v2h-1zM688,438h3v1h-3zM711,408h1v1h-1zM755,389h2v1h-2zM681,413h1v2h-1zM693,444h3v1h-3zM784,411h2v1h-2zM681,420h3v1h-3zM696,406h1v1h-1zM694,399h3v1h-3zM777,434h2v1h-2zM692,403h1v1h-1zM775,417h1v2h-1zM681,408h3v1h-3zM754,389h1v2h-1zM761,409h2v1h-2zM768,438h2v2h-2zM669,431h2v1h-2zM720,408h1v2h-1zM778,408h2v2h-2zM772,391h1v1h-1zM754,440h1v1h-1zM767,394h2v1h-2zM676,407h1v1h-1zM684,442h2v1h-2zM674,441h2v1h-2zM790,422h1v1h-1zM751,422h1v2h-1zM721,415h2v1h-2zM765,439h1v1h-1zM757,403h2v2h-2zM741,422h2v2h-2zM720,406h3v2h-3zM727,422h2v1h-2zM777,408h1v1h-1zM715,406h2v1h-2zM765,388h3v2h-3zM755,432h1v1h-1zM777,395h2v1h-2zM797,440h1v1h-1zM676,405h2v1h-2zM711,421h2v1h-2zM701,443h2v1h-2zM747,422h1v1h-1zM722,423h2v1h-2zM773,390h3v1h-3zM753,405h2v1h-2zM701,417h2v1h-2zM703,445h3v1h-3zM716,431h2v1h-2zM691,430h1v1h-1zM778,399h4v1h-4zM766,430h1v1h-1zM706,422h2v1h-2zM698,424h1v1h-1zM667,405h1v1h-1zM739,409h2v1h-2zM695,422h2v1h-2zM685,442h1v1h-1zM686,425h2v2h-2zM777,444h1v1h-1zM748,419h3v2h-3zM701,440h1v1h-1zM739,408h1v1h-1zM675,432h1v1h-1zM749,415h4v2h-4zM777,394h2v1h-2zM787,432h4v1h-4zM718,410h2v1h-2zM767,411h1v1h-1zM702,423h1v1h-1zM788,441h2v1h-2zM703,418h2v1h-2zM707,441h1v1h-1zM768,442h4v1h-4zM693,407h3v1h-3zM718,436h4v2h-4zM731,416h1v1h-1zM726,428h3v1h-3zM774,407h3v1h-3zM743,394h1v1h-1zM682,422h1v1h-1zM783,431h1v1h-1zM786,430h4v2h-4zM782,434h4v1h-4zM779,423h2v2h-2zM770,396h2v1h-2zM702,401h4v1h-4zM790,431h3v2h-3zM782,422h1v2h-1zM671,415h1v1h-1zM744,428h1v1h-1zM694,431h1v1h-1zM761,435h2v1h-2zM745,393h1v1h-1zM753,388h4v1h-4zM752,405h2v2h-2zM788,430h2v1h-2zM725,417h1v2h-1zM747,426h3v1h-3zM714,403h1v2h-1zM757,429h1v2h-1zM726,431h3v1h-3zM684,412h4v1h-4zM736,400h4v1h-4zM765,444h4v1h-4zM749,405h1v1h-1zM796,445h1v1h-1zM687,402h2v2h-2zM787,412h1v2h-1zM783,410h1v1h-1zM749,408h4v1h-4zM745,430h2v1h-2zM757,424h4v1h-4zM759,423h2v2h-2zM709,422h1v2h-1zM700,408h4v1h-4zM701,410h2v1h-2zM751,409h4v1h-4zM668,435h1v1h-1zM764,443h1v1h-1zM681,419h3v1h-3zM764,415h4v1h-4zM738,409h2v1h-2zM737,441h4v1h-4zM753,399h2v2h-2zM791,422h4v1h-4zM708,408h3v1h-3zM775,395h4v1h-4zM777,392h4v2h-4zM780,405h1v1h-1zM762,426h2v1h-2zM732,433h2v1h-2zM700,402h2v2h-2zM725,423h4v1h-4zM688,402h2v1h-2zM678,418h2v1h-2zM739,405h3v1h-3zM756,396h1v1h-1zM772,405h1v1h-1zM789,433h1v1h-1zM758,439h4v1h-4zM694,426h3v1h-3zM767,410h1v1h-1zM686,414h1v2h-1zM733,414h3v1h-3zM689,403h4v2h-4zM757,436h2v2h-2zM724,443h1v1h-1zM753,423h1v1h-1zM750,426h2v1h-2zM736,413h1v1h-1zM696,409h1v1h-1zM680,424h2v2h-2zM772,418h1v1h-1zM726,409h3v1h-3zM779,401h2v2h-2zM712,445h3v1h-3zM774,404h2v1h-2zM684,444h1v1h-1zM721,418h2v1h-2zM673,435h2v1h-2zM774,440h3v2h-3zM750,422h4v1h-4zM696,425h2v1h-2zM672,432h4v1h-4zM717,435h2v1h-2zM744,419h1v2h-1zM683,434h3v2h-3zM719,420h4v1h-4zM731,409h1v1h-1zM754,396h1v1h-1zM758,445h1v1h-1zM669,428h1v2h-1zM766,395h1v1h-1zM772,428h1v1h-1zM707,418h2v2h-2zM758,439h1v1h-1zM755,434h1v2h-1zM709,429h1v2h-1zM749,403h3v2h-3zM776,413h2v1h-2zM773,418h2v1h-2zM675,444h4v1h-4zM785,428h1v1h-1zM748,402h2v1h-2zM718,426h3v1h-3zM776,401h1v1h-1zM702,409h3v1h-3zM788,445h1v1h-1zM741,432h2v1h-2zM739,417h2v2h-2zM694,430h1v1h-1zM749,425h2v1h-2zM792,420h1v2h-1zM776,431h1v2h-1zM745,439h3v1h-3zM731,420h1v1h-1zM762,406h3v1h-3zM721,415h1v1h-1zM673,446h2v1h-2zM717,412h1v1h-1zM705,421h1v1h-1zM695,438h3v2h-3zM746,396h2v2h-2zM680,411h3v1h-3zM742,438h2v2h-2zM795,440h1v2h-1zM792,427h1v1h-1zM679,441h3v2h-3zM692,436h2v1h-2zM715,440h1v1h-1zM702,415h4v2h-4zM769,442h4v1h-4zM747,411h4v1h-4zM731,406h2v1h-2zM718,407h2v1h-2zM776,440h1v2h-1zM764,395h1v1h-1zM794,437h4v1h-4zM772,443h2v1h-2zM752,411h2v1h-2zM778,413h4v1h-4zM674,428h3v1h-3zM670,419h2v1h-2zM776,399h1v1h-1zM729,413h1v1h-1zM752,432h1v2h-1zM769,444h2v1h-2zM765,401h4v1h-4zM727,415h3v1h-3zM727,432h3v1h-3zM692,410h2v1h-2zM781,416h1v1h-1zM679,421h2v1h-2zM758,422h1v1h-1zM766,409h4v1h-4zM737,405h2v2h-2zM679,409h2v1h-2zM692,435h2v1h-2zM689,406h3v1h-3zM715,441h3v1h-3zM683,428h2v2h-2zM745,439h2v1h-2zM736,416h3v1h-3zM670,444h1v1h-1zM690,402h3v1h-3zM669,441h4v1h-4zM702,435h4v2h-4zM738,427h1v1h-1zM785,428h1v1h-1zM683,414h3v1h-3zM787,417h1v1h-1zM687,419h4v2h-4zM689,435h4v2h-4zM761,420h3v1h-3zM720,442h2v1h-2zM721,436h4v2h-4zM781,418h2v2h-2zM737,443h2v1h-2zM785,425h1v1h-1zM758,397h2v2h-2zM772,442h4v1h-4zM777,438h1v1h-1zM784,422h4v1h-4zM752,434h1v1h-1zM701,416h2v1h-2zM708,424h1v1h-1zM747,443h3v1h-3zM678,420h1v2h-1zM707,408h2v1h-2zM741,436h3v1h-3zM755,396h4v1h-4zM729,417h3v2h-3zM736,407h3v2h-3zM668,405h1v1h-1zM742,414h2v1h-2zM707,431h1v1h-1zM749,405h4v1h-4zM737,435h2v1h-2zM737,445h4v1h-4zM723,425h1v1h-1zM750,436h3v1h-3zM767,430h2v1h-2zM773,427h4v1h-4zM722,417h1v2h-1zM721,445h1v2h-1zM782,400h3v1h-3zM718,411h2v1h-2zM765,401h2v2h-2zM768,445h2v2h-2zM708,417h1v2h-1zM745,419h1v1h-1zM711,436h1v1h-1zM695,410h1v1h-1zM673,418h2v1h-2zM792,431h3v2h-3zM737,415h4v2h-4zM748,405h1v1h-1zM718,408h3v1h-3zM786,443h2v2h-2zM727,422h3v1h-3zM761,430h1v1h-1zM716,406h1v1h-1zM788,426h3v2h-3zM752,416h3v1h-3zM692,422h3v1h-3zM715,445h4v1h-4zM667,428h3v1h-3zM771,419h4v1h-4zM745,409h1v1h-1zM688,431h1v1h-1zM738,435h3v2h-3zM776,387h1v1h-1zM752,437h3v1h-3zM714,411h2v1h-2zM674,439h3v1h-3zM726,422h1v1h-1zM673,441h1v1h-1zM668,437h2v1h-2zM787,444h1v1h-1zM759,425h3v1h-3zM723,408h4v2h-4zM670,437h1v1h-1zM690,407h1v1h-1zM712,438h2v2h-2zM755,443h2v1h-2zM742,407h2v1h-2zM714,410h2v1h-2zM763,389h2v1h-2zM742,412h1v1h-1zM722,422h3v1h-3zM707,413h1v1h-1zM783,425h4v1h-4zM748,411h2v1h-2zM722,415h1v1h-1zM759,389h2v2h-2zM671,428h1v1h-1zM669,428h4v1h-4zM772,397h1v1h-1zM676,440h3v1h-3zM693,428h1v1h-1zM706,434h2v1h-2zM715,436h2v1h-2zM717,433h4v1h-4zM762,412h2v1h-2zM749,397h4v1h-4zM722,421h2v1h-2zM770,393h4v1h-4zM742,422h1v1h-1zM744,428h2v2h-2zM758,419h1v1h-1zM780,432h2v1h-2zM786,420h4v1h-4zM672,403h2v1h-2zM723,430h4v1h-4zM793,426h4v2h-4zM736,425h1v2h-1zM758,436h1v2h-1zM770,386h4v1h-4zM773,398h2v1h-2zM753,392h4v2h-4zM758,398h1v1h-1zM737,411h4v1h-4zM762,391h4v1h-4zM747,398h4v1h-4zM741,431h1v1h-1zM748,412h2v1h-2zM694,427h2v1h-2zM689,411h3v1h-3zM706,418h1v1h-1zM730,444h2v1h-2zM768,404h4v1h-4zM682,414h2v2h-2zM693,417h1v1h-1zM792,423h4v1h-4zM755,388h4v1h-4zM670,408h1v1h-1zM717,443h3v1h-3zM681,428h2v1h-2zM718,424h2v1h-2zM792,436h2v1h-2zM776,441h4v2h-4zM790,442h2v2h-2zM707,419h1v1h-1zM760,393h2v2h-2zM765,383h3v2h-3zM674,428h2v1h-2zM726,425h1v1h-1zM776,425h3v1h-3zM730,417h3v2h-3zM725,416h4v1h-4zM799,443h3v1h-3zM777,387h4v1h-4zM749,402h3v2h-3zM755,402h2v1h-2zM782,397h4v2h-4zM761,392h3v1h-3zM742,442h2v1h-2zM743,408h1v1h-1zM691,439h3v1h-3zM697,435h4v1h-4zM692,425h4v2h-4zM698,412h3v1h-3zM767,440h3v1h-3zM782,426h2v1h-2zM784,417h4v1h-4zM752,443h3v1h-3zM729,426h3v1h-3zM717,422h2v1h-2zM762,443h2v1h-2zM682,429h2v1h-2zM717,436h4v1h-4zM779,391h2v1h-2zM765,386h3v1h-3zM680,417h3v1h-3zM671,440h1v1h-1zM715,426h1v2h-1zM682,433h1v1h-1zM742,401h4v2h-4zM780,420h2v1h-2zM735,438h1v1h-1zM692,434h4v2h-4zM781,444h4v2h-4zM720,438h3v1h-3zM716,416h2v1h-2zM690,406h2v1h-2zM745,407h2v1h-2zM668,419h2v1h-2zM670,412h3v1h-3zM752,429h1v1h-1zM745,420h1v1h-1zM791,440h1v1h-1zM772,423h4v1h-4zM775,438h1v1h-1zM708,431h4v1h-4zM736,423h2v2h-2zM712,427h4v1h-4zM787,432h3v1h-3zM788,434h2v1h-2zM785,411h2v2h-2zM744,402h1v1h-1zM686,428h2v1h-2zM792,420h2v1h-2zM772,410h1v2h-1zM789,417h1v1h-1zM673,411h3v1h-3zM784,424h1v1h-1zM766,443h3v1h-3zM678,434h3v1h-3zM764,383h2v1h-2zM754,441h1v1h-1zM711,430h4v2h-4zM722,426h2v1h-2z" fill="#4e2e86"/>
<path d="M671,329h3v2h-3zM667,328h1v1h-1zM687,337h2v1h-2zM657,316h1v1h-1zM689,331h4v2h-4zM687,338h1v1h-1zM704,344h2v2h-2zM666,323h2v2h-2zM702,343h2v1h-2zM671,328h1v1h-1zM701,338h1v2h-1zM653,314h1v1h-1zM657,323h4v2h-4zM654,319h4v1h-4zM665,326h1v1h-1zM655,314h2v1h-2zM688,331h1v1h-1zM667,322h1v2h-1zM683,331h4v2h-4zM670,326h1v2h-1zM696,343h1v1h-1zM666,329h2v2h-2zM684,336h2v1h-2zM678,332h2v2h-2zM681,332h2v1h-2zM699,340h2v1h-2zM682,333h4v1h-4zM700,342h2v2h-2zM661,324h4v1h-4zM701,335h1v1h-1z" fill="#4e2e86"/>
<path d="M769,362h1v1h-1zM748,372h4v1h-4zM751,361h2v1h-2zM751,376h1v1h-1zM753,383h3v1h-3zM742,379h1v1h-1zM764,368h2v1h-2zM741,389h1v2h-1zM771,365h2v1h-2zM759,372h1v2h-1zM750,381h2v1h-2zM741,390h1v1h-1zM757,360h1v1h-1zM751,373h2v2h-2zM767,362h3v2h-3zM749,363h1v1h-1zM765,373h1v1h-1zM766,362h1v1h-1zM740,375h4v1h-4zM764,376h1v2h-1zM770,363h2v1h-2zM771,363h2v1h-2zM742,370h2v1h-2zM756,377h2v1h-2zM744,367h2v2h-2zM771,367h1v1h-1zM747,375h2v1h-2zM747,388h1v2h-1zM755,373h3v1h-3zM751,365h1v2h-1zM749,385h1v1h-1zM760,360h1v2h-1zM738,393h3v1h-3zM753,383h4v1h-4zM768,378h1v1h-1zM754,375h1v1h-1zM761,368h2v2h-2zM763,359h2v1h-2zM764,369h2v1h-2zM756,366h4v1h-4zM748,382h1v1h-1zM739,363h1v2h-1zM746,373h1v1h-1zM755,369h2v1h-2zM765,377h1v1h-1zM758,378h1v1h-1zM740,393h1v1h-1zM751,367h4v1h-4zM738,387h2v1h-2zM764,375h4v1h-4zM754,361h4v1h-4zM733,385h4v1h-4zM747,383h1v1h-1zM770,369h2v1h-2zM737,368h3v1h-3zM745,367h3v1h-3zM754,372h1v1h-1zM749,365h1v1h-1zM764,378h1v1h-1zM741,386h1v1h-1zM759,362h3v1h-3zM734,380h1v1h-1zM764,360h1v1h-1zM732,381h4v1h-4zM769,371h2v1h-2zM749,373h1v1h-1zM737,377h1v1h-1zM739,393h4v1h-4zM763,360h1v2h-1zM745,360h3v1h-3zM739,381h2v2h-2zM734,385h2v1h-2zM768,376h4v2h-4zM736,389h2v1h-2zM767,367h1v1h-1zM739,375h1v2h-1zM761,373h4v1h-4zM769,373h1v1h-1zM746,380h2v1h-2zM768,374h3v1h-3zM751,370h1v1h-1zM747,390h3v1h-3z" fill="#4e2e86"/>
<path d="M411,409h2v1h-2zM417,437h1v1h-1zM411,442h2v1h-2zM410,440h3v2h-3zM411,418h3v1h-3zM420,443h2v1h-2zM412,409h3v2h-3zM409,435h2v2h-2zM408,430h2v1h-2zM417,430h2v1h-2zM412,443h1v1h-1zM415,423h3v1h-3zM418,434h1v1h-1zM410,441h3v1h-3zM416,443h4v1h-4zM411,426h2v2h-2zM416,436h4v2h-4zM414,443h2v1h-2zM412,438h2v1h-2zM409,425h1v1h-1zM411,426h4v1h-4zM412,432h2v1h-2zM416,441h2v1h-2zM412,436h2v1h-2zM416,425h2v1h-2zM409,435h2v2h-2zM412,441h3v1h-3zM415,432h2v1h-2zM416,437h4v1h-4zM409,433h4v1h-4zM412,421h2v1h-2zM409,434h2v1h-2zM409,419h1v2h-1zM413,414h4v1h-4zM419,432h1v1h-1zM410,438h1v1h-1zM420,440h4v2h-4zM417,433h3v1h-3z" fill="#4e2e86"/>
<g filter="url(#rag2)">
<path d="M835.5,462.6 L832.4,450.1 L826.1,429.1 L824,412.4 L817.7,395.6 L805.2,381 L789.7,369.9 L777.3,353.2 L769.3,343.7 L763.9,334.5 L763.9,334.5 L765.3,344.4 L768,354.9 L771,373.2 L783.8,384.7 L796.4,399.4 L802.6,416.1 L804.7,432.9 L811,453.8 L814.2,466.4Z" fill="#2a1d58" opacity="0.7"/>
<path d="M845.6,458 L842.4,445.5 L836.1,424.5 L834.1,407.8 L827.8,391 L815.2,376.4 L798.5,365.9 L781.7,351.2 L771.2,342.8 L763.9,334.5 L763.9,334.5 L769.3,343.7 L777.3,353.2 L789.7,369.9 L805.2,381 L817.7,395.6 L824,412.4 L826.1,429.1 L832.4,450.1 L835.5,462.6Z" fill="#18265a"/>
</g><g filter="url(#rag)">
<path d="M845.6,458 L842.4,445.5 L836.1,424.5 L834.1,407.8 L827.8,391 L815.2,376.4 L798.5,365.9 L781.7,351.2 L771.2,342.8 L763.9,334.5 L773.3,333.4 L785.9,334.5 L798.5,335.5 L813.1,332.4 L827.8,336.6 L838.2,340.8 L848.7,344.9 L857.1,340.8 L865.5,338.7 L882.2,338.7 L882.2,458 L845.6,458Z" fill="url(#bg)"/>
</g>
<g clip-path="url(#p1c)"><path d="M485.0,391.0L481.8,358.3M481.8,358.3l-2.2,5.6M481.8,358.3l3.3,5.0M502.0,391.0L495.0,367.8M495.0,367.8l-1.1,5.9M495.0,367.8l4.2,4.3M519.0,391.0L509.9,367.5M509.9,367.5l-0.7,6.0M509.9,367.5l4.5,4.0M536.0,391.0L524.8,367.4M524.8,367.4l-0.2,6.0M524.8,367.4l4.8,3.6M570.0,391.0L557.6,361.9M557.6,361.9l-0.5,6.0M557.6,361.9l4.6,3.8M587.0,391.0L575.2,364.5M575.2,364.5l-0.4,6.0M575.2,364.5l4.7,3.7M604.0,391.0L589.5,364.9M589.5,364.9l0.2,6.0M589.5,364.9l5.0,3.3M477.0,410.0L476.2,376.4M476.2,376.4l-2.7,5.4M476.2,376.4l2.9,5.3M494.0,410.0L487.9,384.4M487.9,384.4l-1.5,5.8M487.9,384.4l3.9,4.5M511.0,410.0L499.5,379.9M499.5,379.9l-0.7,6.0M499.5,379.9l4.5,4.0M528.0,410.0L516.7,378.2M516.7,378.2l-0.8,5.9M516.7,378.2l4.4,4.1M545.0,410.0L532.9,381.3M532.9,381.3l-0.5,6.0M532.9,381.3l4.6,3.8M562.0,410.0L552.8,386.0M552.8,386.0l-0.7,6.0M552.8,386.0l4.5,4.0M579.0,410.0L567.1,386.1M567.1,386.1l-0.1,6.0M567.1,386.1l4.9,3.5M596.0,410.0L582.5,379.3M582.5,379.3l-0.4,6.0M582.5,379.3l4.7,3.8M613.0,410.0L602.9,387.2M602.9,387.2l-0.4,6.0M602.9,387.2l4.7,3.7M630.0,410.0L618.9,384.4M618.9,384.4l-0.4,6.0M618.9,384.4l4.7,3.8M647.0,410.0L632.5,385.9M632.5,385.9l0.4,6.0M632.5,385.9l5.1,3.1M664.0,410.0L647.8,381.4M647.8,381.4l0.2,6.0M647.8,381.4l5.0,3.3M681.0,410.0L669.1,385.0M669.1,385.0l-0.2,6.0M669.1,385.0l4.8,3.6M698.0,410.0L682.6,383.6M682.6,383.6l0.3,6.0M682.6,383.6l5.1,3.2M485.0,429.0L482.3,403.2M482.3,403.2l-2.2,5.6M482.3,403.2l3.3,5.0M502.0,429.0L493.0,405.6M493.0,405.6l-0.7,6.0M493.0,405.6l4.5,4.0M519.0,429.0L509.1,399.0M509.1,399.0l-1.0,5.9M509.1,399.0l4.3,4.2M536.0,429.0L525.6,397.7M525.6,397.7l-0.9,5.9M525.6,397.7l4.3,4.2M553.0,429.0L542.8,398.9M542.8,398.9l-0.9,5.9M542.8,398.9l4.3,4.1M570.0,429.0L556.3,400.7M556.3,400.7l-0.2,6.0M556.3,400.7l4.8,3.6M587.0,429.0L575.4,405.7M575.4,405.7l-0.1,6.0M575.4,405.7l4.9,3.5M604.0,429.0L589.2,400.2M589.2,400.2l-0.0,6.0M589.2,400.2l4.9,3.5M621.0,429.0L607.8,400.0M607.8,400.0l-0.3,6.0M607.8,400.0l4.7,3.7M638.0,429.0L625.7,400.1M625.7,400.1l-0.5,6.0M625.7,400.1l4.6,3.8M655.0,429.0L643.4,407.8M643.4,407.8l0.1,6.0M643.4,407.8l5.0,3.3M672.0,429.0L659.0,404.0M659.0,404.0l-0.0,6.0M659.0,404.0l4.9,3.4M689.0,429.0L672.8,403.2M672.8,403.2l0.5,6.0M672.8,403.2l5.2,3.0M706.0,429.0L690.3,404.2M690.3,404.2l0.5,6.0M690.3,404.2l5.2,3.0M477.0,448.0L477.3,416.3M477.3,416.3l-2.8,5.3M477.3,416.3l2.7,5.3M494.0,448.0L487.3,416.1M487.3,416.1l-1.6,5.8M487.3,416.1l3.8,4.6M511.0,448.0L500.1,417.0M500.1,417.0l-0.8,5.9M500.1,417.0l4.4,4.1M528.0,448.0L519.0,424.9M519.0,424.9l-0.6,6.0M519.0,424.9l4.5,4.0M545.0,448.0L535.3,422.6M535.3,422.6l-0.7,6.0M535.3,422.6l4.5,4.0M562.0,448.0L547.1,417.7M547.1,417.7l-0.1,6.0M547.1,417.7l4.8,3.5M579.0,448.0L565.8,421.9M565.8,421.9l-0.1,6.0M565.8,421.9l4.9,3.5M596.0,448.0L585.2,422.3M585.2,422.3l-0.5,6.0M585.2,422.3l4.6,3.8M613.0,448.0L600.3,420.2M600.3,420.2l-0.3,6.0M600.3,420.2l4.7,3.7M630.0,448.0L617.0,425.5M617.0,425.5l0.3,6.0M617.0,425.5l5.1,3.2M647.0,448.0L633.1,419.0M633.1,419.0l-0.2,6.0M633.1,419.0l4.8,3.6M664.0,448.0L648.9,420.1M648.9,420.1l0.1,6.0M648.9,420.1l5.0,3.4M681.0,448.0L667.9,426.0M667.9,426.0l0.4,6.0M667.9,426.0l5.1,3.1M698.0,448.0L682.5,424.2M682.5,424.2l0.6,6.0M682.5,424.2l5.2,2.9M715.0,448.0L703.3,425.8M703.3,425.8l0.0,6.0M703.3,425.8l4.9,3.4" stroke="#000" stroke-width="0.9" fill="none"/>
<path d="M417.0,391.0L443.4,359.3M443.4,359.3l-5.1,2.1M443.4,359.3l-1.2,5.4M434.0,391.0L454.1,359.0M454.1,359.0l-4.7,2.8M454.1,359.0l-0.4,5.5M451.0,391.0L468.2,351.7M468.2,351.7l-4.3,3.5M468.2,351.7l0.4,5.5M468.0,391.0L475.4,355.9M475.4,355.9l-3.5,4.3M475.4,355.9l1.5,5.3M426.0,410.0L444.7,384.5M444.7,384.5l-4.9,2.4M444.7,384.5l-0.8,5.4M443.0,410.0L460.6,377.1M460.6,377.1l-4.5,3.1M460.6,377.1l-0.1,5.5M460.0,410.0L470.6,376.6M470.6,376.6l-3.9,3.9M470.6,376.6l0.9,5.4M434.0,429.0L456.7,396.6M456.7,396.6l-4.9,2.5M456.7,396.6l-0.7,5.5M451.0,429.0L465.9,395.3M465.9,395.3l-4.3,3.4M465.9,395.3l0.3,5.5M468.0,429.0L472.9,386.6M472.9,386.6l-3.1,4.6M472.9,386.6l2.0,5.1M392.0,448.0L423.7,424.6M423.7,424.6l-5.4,0.9M423.7,424.6l-2.4,4.9M409.0,448.0L434.0,423.0M434.0,423.0l-5.2,1.7M434.0,423.0l-1.7,5.2M426.0,448.0L446.1,422.4M446.1,422.4l-5.0,2.3M446.1,422.4l-1.0,5.4M443.0,448.0L461.0,412.1M461.0,412.1l-4.5,3.2M461.0,412.1l0.1,5.5M460.0,448.0L469.8,418.0M469.8,418.0l-3.9,3.8M469.8,418.0l0.9,5.4" stroke="#000" stroke-width="1.35" fill="none"/></g>
<path d="M766.1,341.3L761.9,345.0M761.9,345.0l2.1,-0.5M761.9,345.0l0.8,-2.1M786.1,338.8L785.2,342.5M785.2,342.5l1.5,-1.7M785.2,342.5l-0.5,-2.1M803.4,339.4L796.7,341.8M796.7,341.8l2.2,0.3M796.7,341.8l1.5,-1.6M820.1,341.6L815.0,343.3M815.0,343.3l2.2,0.4M815.0,343.3l1.5,-1.6M835.4,341.5L833.2,337.8M833.2,337.8l0.1,2.2M833.2,337.8l1.9,1.1M794.8,357.8L789.9,352.7M789.9,352.7l0.6,2.1M789.9,352.7l2.1,0.7M810.7,359.7L804.0,362.1M804.0,362.1l2.2,0.3M804.0,362.1l1.5,-1.6M827.9,359.4L823.9,363.6M823.9,363.6l2.1,-0.7M823.9,363.6l0.6,-2.1M845.4,360.0L840.5,356.3M840.5,356.3l1.0,2.0M840.5,356.3l2.2,0.3M862.5,358.4L858.4,361.9M858.4,361.9l2.1,-0.5M858.4,361.9l0.8,-2.0M801.5,376.8L797.5,373.0M797.5,373.0l0.7,2.1M797.5,373.0l2.1,0.6M817.0,376.3L812.7,381.8M812.7,381.8l2.0,-0.9M812.7,381.8l0.4,-2.2M837.0,376.6L833.8,379.7M833.8,379.7l2.1,-0.6M833.8,379.7l0.7,-2.1M851.8,374.0L845.4,370.9M845.4,370.9l1.3,1.8M845.4,370.9l2.2,-0.1M828.8,395.8L823.7,396.3M823.7,396.3l2.0,0.8M823.7,396.3l1.8,-1.2M844.2,394.3L841.8,397.1M841.8,397.1l2.1,-0.8M841.8,397.1l0.5,-2.1M860.9,393.9L857.2,393.8M857.2,393.8l1.9,1.1M857.2,393.8l2.0,-0.9M837.5,410.4L835.7,416.7M835.7,416.7l1.5,-1.6M835.7,416.7l-0.4,-2.2M853.5,411.3L849.2,407.7M849.2,407.7l0.8,2.0M849.2,407.7l2.1,0.5M826.5,431.5L819.3,433.0M819.3,433.0l2.1,0.6M819.3,433.0l1.7,-1.4M844.6,428.3L842.3,425.6M842.3,425.6l0.5,2.1M842.3,425.6l2.0,0.8M862.2,430.1L856.5,432.1M856.5,432.1l2.2,0.3M856.5,432.1l1.5,-1.6" stroke="#000" stroke-width="1.0" fill="none"/>
<path d="M583.1,137 L588.3,136.6 L592.9,136.9 L605,135.4 L612.5,137.6 L618.6,138.4 L621.6,133.9 L624.6,136.1 L627.7,136.9 L629.2,133.1 L633.7,134.6 L638.3,137.6 L646.6,140.7 L646.6,150.8 L644,149.9 L627.7,145.3 L612.5,141.6 L597.4,138.8Z" fill="#8B4513"/>
<path d="M769,248.1 L775.1,246.5 L781.1,247.3 L784.9,250.3 L782.6,254.9 L776.6,253.3 L772.1,251.1Z" fill="#8B4513" stroke="#fff" stroke-width="1.2"/>
<defs>
<filter id="mA" x="-10%" y="-10%" width="120%" height="120%" color-interpolation-filters="sRGB"><feTurbulence type="fractalNoise" baseFrequency="0.24" numOctaves="2" seed="3" result="n"/><feTurbulence type="fractalNoise" baseFrequency="0.35" numOctaves="1" seed="14" result="n2"/><feColorMatrix in="n" type="matrix" values="0 0 0 0 0 0 0 0 0 0 0 0 0 0 0 16 0 0 0 -8.24" result="mask"/><feColorMatrix in="n2" type="matrix" values="0 0 0 0 0.545 0 0 0 0 0.27 0 0 0 0 0.075 0 16 0 0 -11.84" result="bmask"/><feDisplacementMap in="SourceGraphic" in2="n" scale="7" xChannelSelector="R" yChannelSelector="G" result="rough"/><feFlood flood-color="#000" result="blk"/><feComposite in="blk" in2="mask" operator="in" result="holes"/><feComposite in="holes" in2="rough" operator="in" result="holesIn"/><feComposite in="bmask" in2="rough" operator="in" result="brIn"/><feMerge><feMergeNode in="rough"/><feMergeNode in="holesIn"/><feMergeNode in="brIn"/></feMerge></filter>
<filter id="mB" x="-10%" y="-10%" width="120%" height="120%" color-interpolation-filters="sRGB"><feTurbulence type="fractalNoise" baseFrequency="0.2" numOctaves="2" seed="8" result="n"/><feTurbulence type="fractalNoise" baseFrequency="0.35" numOctaves="1" seed="19" result="n2"/><feColorMatrix in="n" type="matrix" values="0 0 0 0 0 0 0 0 0 0 0 0 0 0 0 16 0 0 0 -7.28" result="mask"/><feColorMatrix in="n2" type="matrix" values="0 0 0 0 0.545 0 0 0 0 0.27 0 0 0 0 0.075 0 16 0 0 -12.48" result="bmask"/><feDisplacementMap in="SourceGraphic" in2="n" scale="7" xChannelSelector="R" yChannelSelector="G" result="rough"/><feFlood flood-color="#000" result="blk"/><feComposite in="blk" in2="mask" operator="in" result="holes"/><feComposite in="holes" in2="rough" operator="in" result="holesIn"/><feComposite in="bmask" in2="rough" operator="in" result="brIn"/><feMerge><feMergeNode in="rough"/><feMergeNode in="holesIn"/><feMergeNode in="brIn"/></feMerge></filter>
<filter id="mC" x="-10%" y="-10%" width="120%" height="120%" color-interpolation-filters="sRGB"><feTurbulence type="fractalNoise" baseFrequency="0.3" numOctaves="2" seed="5" result="n"/><feTurbulence type="fractalNoise" baseFrequency="0.35" numOctaves="1" seed="16" result="n2"/><feColorMatrix in="n" type="matrix" values="0 0 0 0 0 0 0 0 0 0 0 0 0 0 0 16 0 0 0 -8.0" result="mask"/><feColorMatrix in="n2" type="matrix" values="0 0 0 0 0.545 0 0 0 0 0.27 0 0 0 0 0.075 0 16 0 0 -9.6" result="bmask"/><feDisplacementMap in="SourceGraphic" in2="n" scale="4" xChannelSelector="R" yChannelSelector="G" result="rough"/><feFlood flood-color="#000" result="blk"/><feComposite in="blk" in2="mask" operator="in" result="holes"/><feComposite in="holes" in2="rough" operator="in" result="holesIn"/><feComposite in="bmask" in2="rough" operator="in" result="brIn"/><feMerge><feMergeNode in="rough"/><feMergeNode in="holesIn"/><feMergeNode in="brIn"/></feMerge></filter>
</defs>
<path d="M196.4,191 L203.3,187.5 L210.3,184.9 L220.8,188.4 L231.3,179.7 L240.9,172.7 L241.7,191.9 L234.8,207.6 L231.3,219.8 L229.5,230.3 L227.8,240.8 L220.8,250 L213.8,254.7 L173.7,254.7 L177.2,235.5 L192.9,232 L201.6,225 L210.3,219.8 L213.8,207.6 L199.8,202.4Z" fill="#fff" filter="url(#mA)"/>
<path d="M161.5,171.8 L173.7,168.3 L184.1,166.6 L196.4,167.5 L204.2,168.8 L209.4,176.2 L201.6,170.9 L192.9,172.7 L184.1,175.3 L178.9,179.7 L172.8,183.2 L167.6,187.5 L163.2,191 L158,189.3 L162.3,182.3 L160.6,176.2Z" fill="#fff" filter="url(#mC)"/>
<path d="M175.4,229.5 L220.8,229.5 L208.6,240 L203.3,250.5 L198.1,262.7 L195.5,269.7 L189.4,276.6 L187.6,276.6 L178.9,274.9 L170.2,269.7 L171.9,260.9 L170.2,254 L175.4,245.2Z" fill="#fff" filter="url(#mA)"/>
<path d="M64,305.6 L69.2,300.4 L72.7,297.8 L74.5,303.9 L81.5,304.8 L86.7,309.1 L93.7,311.7 L96.3,316.1 L94.5,323.1 L98.9,331.8 L97.2,337 L90.2,340.5 L83.2,342.3 L74.5,344 L64,343.2Z" fill="#fff" filter="url(#mB)"/>
<path d="M101.5,267.2 L105.9,264.6 L114.6,269 L121.6,270.7 L126.8,276 L133.8,277.7 L140.8,275.1 L146,279.5 L154.8,281.2 L161.7,278.6 L161.7,284.7 L158.2,289.9 L159.1,296.9 L154.8,302.1 L147.8,304.8 L140.8,308.2 L137.3,311.7 L132.1,314.4 L126.8,316.1 L121.6,316.1 L116.4,310.9 L116.4,303.9 L121.6,298.6 L123.3,289.9 L121.6,282.9 L114.6,279.5 L107.6,276 L101.5,272.5Z" fill="#fff" filter="url(#mA)"/>
<path d="M133.8,284.7 L142.5,282.9 L146,289.9 L144.3,298.6 L140.8,305.6 L135.6,303.9 L133.8,295.2Z" fill="#000"/>
<path d="M144,277.5 L152.7,279.3 L161.5,277.5 L159.7,288.9 L158,297.6 L161.5,302.8 L154.5,303.7 L144,303.7Z" fill="#fff" filter="url(#mB)"/>
<path d="M248.8,306.8 L254.6,311.4 L259.2,316 L264.3,320.6 L264.3,332.2 L259.2,339.1 L252.3,341.8 L247.7,336.8 L250,322.9Z" fill="#fff" filter="url(#mC)"/>
<path d="M168.7,265.5 L175.7,262 L186.2,262 L186.2,277.7 L179.2,276.8 L172.2,272.5Z" fill="#fff" filter="url(#mA)"/>
<path d="M484,149.7 L493.1,147.5 L506.7,145.2 L521.8,141.4 L536.9,138.7 L552.1,136.9" fill="none" stroke="#fff" stroke-width="1.3" stroke-linejoin="round" stroke-linecap="round"/>
<path d="M503.7,143.2 L514.2,141 L529.4,137.2" fill="none" stroke="#fff" stroke-width="1.3" stroke-linejoin="round" stroke-linecap="round"/>
<path d="M582.3,137.2 L597.4,138.7 L612.5,141.4 L627.7,145.2 L644,149.7" fill="none" stroke="#fff" stroke-width="1.3" stroke-linejoin="round" stroke-linecap="round"/>
<path d="M588.3,136.9 L592.9,137.2 L605,135.7 L612.5,137.9 L618.6,138.7 L621.6,134.2 L624.6,136.4 L627.7,137.2 L629.2,133.4 L633.7,134.9 L638.3,137.9 L644,140.2" fill="none" stroke="#fff" stroke-width="1.3" stroke-linejoin="round" stroke-linecap="round"/>
<path d="M624,144 L639.1,148.6 L654.2,154.6 L669.4,161.4 L684.5,169.7 L695.1,175.8 L702.6,181.1 L710.2,186.4 L717.8,192.4 L722.3,196" fill="none" stroke="#fff" stroke-width="1.3" stroke-linejoin="round" stroke-linecap="round"/>
<path d="M696.6,170.5 L699.6,175 L704.2,178.1 L708.7,182.6 L714.7,184.1 L720.8,185.6 L726.8,191.7 L729.9,196" fill="none" stroke="#fff" stroke-width="1.3" stroke-linejoin="round" stroke-linecap="round"/>
<path d="M704,183 L713.1,190.6 L722.1,196.6 L729.7,202.7 L738.8,207.2" fill="none" stroke="#fff" stroke-width="1.3" stroke-linejoin="round" stroke-linecap="round"/>
<path d="M744.1,217.1 L741.5,220.8 L740.6,228.4 L742.6,236.7 L745.6,244.3 L748.2,249.6 L750.9,247.8 L755.4,246.5" fill="none" stroke="#fff" stroke-width="1.3" stroke-linejoin="round" stroke-linecap="round"/>
<path d="M784.2,251.1 L786.4,257.1 L790.2,260.2 L794.7,259.4 L796.2,255.6" fill="none" stroke="#fff" stroke-width="1.3" stroke-linejoin="round" stroke-linecap="round"/>
<path d="M797.8,258.6 L809.9,252.6 L818.9,248.1 L828,242.8 L834.1,238.2 L835.6,236" fill="none" stroke="#fff" stroke-width="1.3" stroke-linejoin="round" stroke-linecap="round"/>
<path d="M838.6,231.7 L849.2,230.2 L853,225.4" fill="none" stroke="#fff" stroke-width="1.3" stroke-linejoin="round" stroke-linecap="round"/>
<path d="M266,166.1 L275.1,165.1" fill="none" stroke="#fff" stroke-width="1.3" stroke-linejoin="round" stroke-linecap="round"/>
<path d="M293.2,161.6 L300.8,160.5 L306.8,162" fill="none" stroke="#fff" stroke-width="1.3" stroke-linejoin="round" stroke-linecap="round"/>
<path d="M326.5,165.1 L329.5,168.4" fill="none" stroke="#fff" stroke-width="1.3" stroke-linejoin="round" stroke-linecap="round"/>
<path d="M340.1,168.1 L349.2,165.4 L355.2,163.9" fill="none" stroke="#fff" stroke-width="1.3" stroke-linejoin="round" stroke-linecap="round"/>
<path d="M381.8,156.5 L389.4,161.1 L395.4,162.6 L404.5,162.9 L412.1,163.2" fill="none" stroke="#fff" stroke-width="1.3" stroke-linejoin="round" stroke-linecap="round"/>
<path d="M383.3,164.9 L389.4,168.6" fill="none" stroke="#fff" stroke-width="1.3" stroke-linejoin="round" stroke-linecap="round"/>
<path d="M272.8,220.2 L278.1,214.9 L281.1,221" fill="none" stroke="#fff" stroke-width="1.3" stroke-linejoin="round" stroke-linecap="round"/>
<path d="M266,224.7 L266.3,231.5" fill="none" stroke="#fff" stroke-width="1.3" stroke-linejoin="round" stroke-linecap="round"/>
<path d="M250.9,271.6 L257.7,264.8" fill="none" stroke="#fff" stroke-width="1.3" stroke-linejoin="round" stroke-linecap="round"/>
<path d="M235,280.7 L241.1,278.4" fill="none" stroke="#fff" stroke-width="1.3" stroke-linejoin="round" stroke-linecap="round"/>
<path d="M195.8,317.2 L201.6,325.3 L206.2,334.5 L210.8,343.7 L213.1,352.9 L216.6,362.1" fill="none" stroke="#fff" stroke-width="1.3" stroke-linejoin="round" stroke-linecap="round"/>
<path d="M190.1,319.5 L193.5,327.6 L199.3,339.1 L202.8,348.3 L210.8,358.7" fill="none" stroke="#fff" stroke-width="1.3" stroke-linejoin="round" stroke-linecap="round"/>
<path d="M222.3,341.4 L221.2,350.6 L217.7,359.8" fill="none" stroke="#fff" stroke-width="1.3" stroke-linejoin="round" stroke-linecap="round"/>
<path d="M230.4,334.5 L232.7,343.7 L228.1,352.9 L221.2,361" fill="none" stroke="#fff" stroke-width="1.3" stroke-linejoin="round" stroke-linecap="round"/>
<path d="M243.1,346 L237.3,354.1 L229.3,358.7" fill="none" stroke="#fff" stroke-width="1.3" stroke-linejoin="round" stroke-linecap="round"/>
<path d="M395.3,81.5 L395.8,95.5" fill="none" stroke="#fff" stroke-width="1.3" stroke-linejoin="round" stroke-linecap="round"/>
<path d="M284.2,193 L286.4,205.1 L286.9,214.1 L285.7,223.2 L282.6,230.8 L278.9,239.1 L273.6,246.7 L267.5,254.2" fill="none" stroke="#fff" stroke-width="2.3" stroke-linecap="round"/>
<path d="M243.6,163.1 L249.4,164.3 L253.1,167.5 L256.2,160.2 L253.9,161.6 L251.6,163.9Z" fill="#fff"/>
<g shape-rendering="crispEdges"><path d="M264,187.7 L279.1,186.4 L289.1,187.7 L296.7,197.7 L304.2,200.3 L311.7,187.7 L321.8,185.2 L329.3,187.7 L336.9,183.9 L346.9,190.2 L351.9,197.7 L359.5,200.3 L367,192.7 L372,186.4 L373.3,180.2 L369.5,175.1" fill="none" stroke="#4a4a4a" stroke-width="1.3" stroke-linejoin="round"/>
<path d="M325.6,197.7 L326.8,206.5 L336.9,210.3 L349.4,206.5 L357,201.5" fill="none" stroke="#4a4a4a" stroke-width="1.3" stroke-linejoin="round"/>
<path d="M264,285.7 L271.5,268.1 L279.1,255.5 L289.1,240.5 L299.2,232.9 L306.7,235.4 L314.3,248 L319.3,260.6 L326.8,273.1" fill="none" stroke="#4a4a4a" stroke-width="1.3" stroke-linejoin="round"/>
<path d="M279.1,294 L284.1,283.2 L294.2,278.1 L301.7,280.7 L304.2,288.2 L301.7,294 L305.8,298.3 L305,285.7 L302.7,279.4 L296.4,277.1 L288.6,279.4 L282.3,285.7 L279.1,295.1 L274.4,303 L266.6,310.8 L265,317.1" fill="none" stroke="#4a4a4a" stroke-width="1.3" stroke-linejoin="round"/>
<path d="M279.6,162.3 L277.3,157.8 L278.1,150.2 L278.9,141.9 L276.6,150 L279.1,160.1 L294.2,158.8 L314.3,161.3 L339.4,160.1 L359.5,156.3 L374.6,155 L381.8,155 L389.4,158.8 L396.9,160.3 L403.7,157.3 L410.5,155 L416.6,152.8 L419.6,150.5" fill="none" stroke="#4a4a4a" stroke-width="1.3" stroke-linejoin="round"/>
<path d="M111.7,332.7 L121.8,330.2 L129.3,332.7 L139.4,330.2 L151.9,323.9 L164.5,322.6 L174.6,325.1 L182.1,330.2 L187.1,337.7 L188.4,350.3 L194.7,359 L204.7,364.1 L212.2,365.3 L203.9,371.3 L197,365.6 L190.1,357.5 L185.5,348.3 L182,336.8 L176.3,328.7 L167,322.9 L155.5,322.9 L144,326.4" fill="none" stroke="#6e6e6e" stroke-width="1.6" stroke-linejoin="round"/>
<path d="M170.8,307.5 L174.6,313.8 L184.6,318.8 L194.7,326.4 L200.9,335.2 L199.7,345.2" fill="none" stroke="#4a4a4a" stroke-width="1.6" stroke-linejoin="round"/>
<path d="M131.8,340.2 L146.9,337.7 L162,337.7 L172,341.5 L173.3,350.3 L177.1,360.3 L187.1,366.6 L199.7,372.9 L214.8,374.1 L229.8,371.6 L242.4,365.3" fill="none" stroke="#2e2e2e" stroke-width="1.6" stroke-linejoin="round"/>
<path d="M64,369.1 L69,377.9 L79.1,386.7 L87.9,380.4 L91.6,370.4 L101.7,362.8 L114.3,359 L124.3,356.5" fill="none" stroke="#2e2e2e" stroke-width="1.6" stroke-linejoin="round"/>
<path d="M207.2,377.9 L208.5,385.4 L219.8,390.5 L234.9,391.7 L249.9,385.4 L262.5,377.9 L272.5,367.8 L282.6,357.8 L295.2,347.7 L305.2,337.7" fill="none" stroke="#2e2e2e" stroke-width="1.6" stroke-linejoin="round"/>
<path d="M232.7,152.5 L231.2,160.8 L226.7,166.9 L224.4,172.2 L225.2,176.7" fill="none" stroke="#4a4a4a" stroke-width="1.4" stroke-linejoin="round"/>
<path d="M288.7,145 L290.2,149.5 L297.8,151.8 L306.8,153.3 L314.4,155.5 L320.4,154 L323.5,150.2 L320.4,148" fill="none" stroke="#6e6e6e" stroke-width="1.4" stroke-linejoin="round"/>
<path d="M308.3,160.8 L318.9,161.1 L328,158.6 L337.1,157.1 L346.2,154.8 L355.2,155.5 L364,157.1" fill="none" stroke="#4a4a4a" stroke-width="1.4" stroke-linejoin="round"/>
<path d="M293.2,196 L296.2,199.8 L302.3,199.8 L306.8,196" fill="none" stroke="#2e2e2e" stroke-width="1.4" stroke-linejoin="round"/>
<path d="M238.8,215.7 L247.9,209.6 L253.9,203.6 L256.9,199 L256.2,195.6 L264.5,189.6 L272.1,186.5 L282.6,185.8 L290.2,188.1 L294.7,194.1 L299.3,199.4 L305.3,195.6 L309.9,188.1 L315.9,185 L323.5,185.8 L329.5,183.5 L337.1,184.3 L344.6,189.6 L349.2,194.1 L340.1,197.1 L329.5,198.6 L325,202.4 L326.5,206 L325,200.5 L328,206.6 L334.1,210.4 L341.6,208.9 L349.2,205.8" fill="none" stroke="#2e2e2e" stroke-width="1.4" stroke-linejoin="round"/>
<path d="M337.1,273.9 L331,273.1 L325,267.1 L320.4,258 L315.9,245.9 L311.4,236.8 L305.3,232.3 L299.3,233.1 L293.2,238.3 L287.2,245.9 L281.1,255 L275.1,262.5 L270.5,274.6 L271.3,270 L268.9,279.4 L268.1,288.8 L263.4,296.7 L254,303" fill="none" stroke="#2e2e2e" stroke-width="1.4" stroke-linejoin="round"/>
<path d="M285.7,282 L291.7,278.4 L299.3,277.7 L304.6,280.7" fill="none" stroke="#2e2e2e" stroke-width="1.4" stroke-linejoin="round"/>
<path d="M797.8,245 L802.3,248.1 L808.3,248.8 L812.9,246.5" fill="none" stroke="#6e6e6e" stroke-width="1.4" stroke-linejoin="round"/>
<path d="M794.7,249.6 L800.8,251.8 L808.3,252.6 L814.4,249.6 L818.9,246.5 L815.9,239.7 L820.4,242.8 L825,243.5 L832.5,239 L837.1,236 L834.1,231.4" fill="none" stroke="#4a4a4a" stroke-width="1.4" stroke-linejoin="round"/>
<path d="M800.8,255.6 L809.9,254.1 L818.9,251.1 L831,249.6" fill="none" stroke="#2e2e2e" stroke-width="1.4" stroke-linejoin="round"/>
<path d="M392.4,124 L396.2,128.6 L400,127.1 L403.7,123.3" fill="none" stroke="#b6b6b6" stroke-width="1.6" stroke-linejoin="round"/>
<path d="M384.1,133.9 L389.4,136.9 L393.9,139.9 L398.4,144.4 L403,149 L407.5,149 L412.1,144.4" fill="none" stroke="#929292" stroke-width="1.6" stroke-linejoin="round"/>
<path d="M381.1,145.2 L387.9,146 L393.9,148.2 L398.4,152 L403,156.5" fill="none" stroke="#6e6e6e" stroke-width="1.6" stroke-linejoin="round"/>
<path d="M344,155 L351.6,154.3 L362.1,156.5 L371.2,157.3 L377.3,162.6 L384.8,164.1 L393.9,167.1 L401.5,165.6" fill="none" stroke="#2e2e2e" stroke-width="1.4" stroke-linejoin="round"/>
<path d="M477.1,153.5 L484.6,152.8 L490.7,156.5 L496.7,153.5 L504,150.5" fill="none" stroke="#2e2e2e" stroke-width="1.4" stroke-linejoin="round"/>
<path d="M129,163.9 L128.3,169.9 L132.1,175.2 L139.6,177.5" fill="none" stroke="#4a4a4a" stroke-width="1.4" stroke-linejoin="round"/>
<path d="M147.2,163.9 L151,170.7 L156.2,174.4" fill="none" stroke="#4a4a4a" stroke-width="1.4" stroke-linejoin="round"/>
<path d="M204.6,174.4 L200.1,179 L191,185 L182,186.5 L174.4,183.5 L166.8,191.1 L175.9,195.6 L185,194.9" fill="none" stroke="#4a4a4a" stroke-width="1.4" stroke-linejoin="round"/>
<path d="M170.5,306.8 L175.1,312.6 L187.8,318.3 L192.4,326.4 L197,337.9 L200.5,348.3 L207.4,357.5 L213.1,364.4 L220,365.6 L229.3,361 L240.8,354.1 L252.3,346 L261.5,339.1 L266.6,339.1 L274.4,337.5 L280.7,332.8 L283.8,330.5" fill="none" stroke="#929292" stroke-width="1.5" stroke-linejoin="round"/>
<path d="M167,309.1 L176.3,316 L185.5,321.8 L190.1,332.2 L192.4,343.7 L199.3,355.2 L208.5,364.4 L220,369 L231.6,364.4 L245.4,357.5 L259.2,347.1 L265,343 L272.8,343.8 L282.3,343.8 L291.7,342.2 L296.4,337.5 L293.3,328.1 L290.1,320.3 L283.8,317.1 L274.4,318.7 L265,320.3" fill="none" stroke="#6e6e6e" stroke-width="1.5" stroke-linejoin="round"/>
<path d="M199.3,319.5 L202.8,328.7 L207.4,339.1 L210.8,350.6 L214.3,359.8 L206.2,356.4 L213.1,366.3 L221.2,365.6 L226.9,359.8" fill="none" stroke="#b6b6b6" stroke-width="1.3" stroke-linejoin="round"/>
<path d="M209.7,358.7 L213.1,363.3 L217.7,364.4 L222.3,361" fill="none" stroke="#dadada" stroke-width="2.6" stroke-linejoin="round"/>
<path d="M223.5,344.8 L225.8,352.9 L231.6,355.2 L238.5,350.6" fill="none" stroke="#929292" stroke-width="1.5" stroke-linejoin="round"/>
<path d="M144,337.9 L157.8,335.6 L169.3,339.1 L176.3,348.3 L178.6,359.8 L183.2,369" fill="none" stroke="#4a4a4a" stroke-width="1.5" stroke-linejoin="round"/>
<path d="M305.8,298.6 L304.3,309.3 L301.1,317.1 L298,326.5 L298.8,336 L296.4,342.2 L290.1,348.5" fill="none" stroke="#4a4a4a" stroke-width="1.4" stroke-linejoin="round"/>
<path d="M351.4,277.9 L363.9,278.6 L370.2,282.6 L371.8,290.4 L363.9,295.9 L352.9,298.3 L342,299.8 L331,303.8 L321.5,310.8 L313.7,318.7 L307.4,325 L302.7,332.8 L298,340.7 L290.1,350.1 L282.3,358" fill="none" stroke="#2e2e2e" stroke-width="1.6" stroke-linejoin="round"/>
<path d="M265.8,333.6 L268.9,334.4" fill="none" stroke="#929292" stroke-width="2.0" stroke-linejoin="round"/>
<path d="M524.1,199 L512.7,197.7 L502.7,207.8 L497.7,215.3 L505.2,222.9 L512.7,230.4 L524.1,229.1" fill="none" stroke="#00e650" stroke-width="1.8" stroke-linejoin="round"/>
<path d="M504,205.3 L511.5,199 L524.1,197.7 L531.6,204 L535.4,212.8 L534.2,221.6 L527.9,229.1 L515.3,230.4 L506.5,224.1 L504,220.4" fill="none" stroke="#00e650" stroke-width="1.8" stroke-linejoin="round"/>
<path d="M704,242 L713.1,242 L719.1,246.5 L722.1,254.1 L722.9,261.7 L724.4,266 L725.1,268.1 L721.3,255.5 L720.1,246.7 L712.5,241.7 L695,241.7 L689.9,238.4 L685.4,243 L687.4,249.2 L695,255.5 L695,263.1 L690.4,269.3 L691.2,283.2 L698.7,294 L698.7,294 L704.7,295.8 L711,295 L715.9,299.3 L715.8,300 L724.6,305 L727.1,313.8 L737.2,317.6 L747.2,320.1 L759.8,319.6 L767.3,325.1 L774.9,335.2 L782.4,344 L783.6,350.3 L774.9,356.5 L767.3,362.8 L764.8,370.4 L769.8,377.9 L779.9,387.9 L789.9,399.2 L798.7,408 L795,415.6 L789.9,420.6 L791.2,433.2 L802.5,444" fill="none" stroke="#00e650" stroke-width="1.8" stroke-linejoin="round"/>
<path d="M364,311.3 L374.1,308.8 L380.3,303.8 L379.1,300 L387.1,294 L394.7,292 L402.2,286.9 L397.2,281.9 L389.6,278.1 L392.1,270.6 L387.1,265.6 L377.1,263.1 L369.5,260.6 L372,253 L379.6,245.5 L387.1,235.4 L394.7,227.9 L404.7,230.4 L412.2,236.7 L417.3,245.5 L419.8,253 L414.8,258 L417.3,263.1 L424.8,261.8 L434.9,263.1 L439.9,268.1 L447.4,275.6 L457.5,279.4 L470,281.9 L480.1,280.7 L490.1,279.4 L495.2,275.6 L492.6,270.6 L482.6,266.8 L472.5,265.6 L475.1,260.6 L482.6,255.5 L485.1,248 L500.2,240.5 L510.2,232.9 L511.5,234.2 L519.1,235.4 L522.1,243 L521.6,264.3 L529.1,266.8 L539.2,274.4 L534.2,280.7 L533.6,288.2 L541.7,294 L549.9,300 L557.5,307.5 L570,312.6 L582.6,311.3 L587.6,305 L586.4,300 L585.7,294 L586.9,287.7 L602,288.9 L603.2,294 L602.7,300 L605.2,312.6 L612.7,325.1 L620.3,335.2 L624.1,342.7" fill="none" stroke="#00e650" stroke-width="1.8" stroke-linejoin="round"/>
<path d="M604,310.1 L609,320.1 L619.1,332.7 L624.1,345.2 L627.9,356.5 L636.7,361.6 L644.2,370.4 L654.3,380.4 L664.3,390.5 L671.8,400.5 L676.9,410.6 L681.9,423.1 L684.4,433.2 L689.4,444" fill="none" stroke="#00e650" stroke-width="1.8" stroke-linejoin="round"/>
<path d="M699.5,444 L698.2,428.1 L697,415.6 L693.2,405.5 L686.9,396.7 L680.6,385.4 L675.6,374.1 L671.8,366.6 L676.9,364.1 L689.4,367.8 L704.5,366.6 L717.1,367.8 L729.6,374.1 L739.7,385.4 L749.7,398 L759.8,410.6 L767.3,423.1 L774.9,435.7 L779.9,444" fill="none" stroke="#d2ff00" stroke-width="1.8" stroke-linejoin="round"/>
<path d="M719.6,444 L720.8,433.2 L724.6,420.6 L729.6,413.1 L734.7,411.8 L742.2,415.6 L752.2,425.6 L759.8,435.7 L764.8,444" fill="none" stroke="#ffbe00" stroke-width="1.8" stroke-linejoin="round"/>
<path d="M850.2,444 L850.2,435.7 L851.5,420.6 L852.7,405.5 L854,390.5 L852.7,375.4 L850.2,361.6 L855.3,350.3 L860.3,335.2 L862.8,320.1 L864,319 L861.9,324.2 L862.7,330" fill="none" stroke="#00ffe6" stroke-width="1.8" stroke-linejoin="round"/>
<path d="M91.6,342.7 L111.7,340.2 L121.8,332.7 L131.8,326.4 L146.9,318.8 L159.5,315.1 L169.5,315.1 L177.1,318.8 L187.1,323.9 L194.7,331.4 L197.2,338.9 L192.1,346.5 L194.7,352.8 L202.2,356.5 L209.7,360.3" fill="none" stroke="#f00000" stroke-width="1.8" stroke-linejoin="round"/>
<path d="M114.3,341.5 L129.3,335.2 L144.4,331.4 L157,325.1 L167,325.1 L174.6,328.9 L180.8,336.4 L182.1,347.7 L187.1,356.5 L194.7,361.6 L207.2,365.3 L219.8,365.8 L232.3,366.6 L242.4,360.3 L249.9,354 L257.5,347.7 L265,342.7 L269.7,337.5 L272.8,335.2 L273.6,329.7 L275.2,325.8 L271.3,325 L265.8,326.5 L265.8,329.2 L271.3,329.7" fill="none" stroke="#ff5000" stroke-width="1.8" stroke-linejoin="round"/>
<path d="M64,385.4 L74.1,377.9 L86.6,367.8 L99.2,360.3 L111.7,354" fill="none" stroke="#ff5000" stroke-width="1.8" stroke-linejoin="round"/>
<path d="M64,403 L76.6,398 L89.1,385.4 L99.2,372.9 L111.7,364.1 L124.3,359 L128.1,354 L131.8,347.7 L144.4,345.2 L158.2,344 L160.7,350.3 L158.2,360.3 L150.7,366.6 L148.2,371.6 L157,375.4 L164.5,377.4 L165.8,369.1 L172,364.1 L182.1,364.1 L189.6,369.1 L193.4,375.4 L189.6,381.7 L177.1,386.7 L164.5,386.7 L154.5,387.9 L144.4,393 L131.8,396.7 L116.8,401.8 L101.7,406.8 L84.1,413.1 L64,420.6" fill="none" stroke="#ffbe00" stroke-width="1.8" stroke-linejoin="round"/>
<path d="M140.6,444 L151.9,433.2 L164.5,420.6 L174.6,409.3 L184.6,400.5 L197.2,395.5 L209.7,393 L219.8,382.9 L232.3,375.4 L242.4,372.9" fill="none" stroke="#ffbe00" stroke-width="1.8" stroke-linejoin="round"/>
<path d="M265,346.5 L280.1,341.5 L290.1,335.2 L287.8,336.8 L291.7,336 L294.8,332 L295.6,326.5 L298,321 L302.7,316.3 L307.4,312.4 L315.3,309.3 L321.5,305.3 L318.4,303.8 L314.5,305.3 L308.2,304.6 L307.4,299.1 L312.1,295.1 L320,290.4 L325.5,284.1 L326.2,276.3 L321.5,270 L323,270.6 L320.5,258 L318,243 L314.3,230.4 L308.7,220.4 L307.2,211.6 L310.5,208.3 L316.8,215.3 L326.8,217.3 L339.4,212.8 L351.9,202.8 L362,192.7 L368.3,182.7 L372,175.1 L384.6,175.1 L394.7,170.1 L404.7,160.1 L409.7,150 L412.1,142.9 L409,150.5 L406,155 L401.5,162.6 L395.4,168.6 L387.9,173.9 L384.8,176" fill="none" stroke="#ffbe00" stroke-width="1.8" stroke-linejoin="round"/>
<path d="M64,431.2 L76.6,426.4 L89.1,421.6 L104.2,416.8 L116.8,415.6 L125.6,419.3 L129.3,428.1 L126.8,438.2 L121.8,444" fill="none" stroke="#ff5000" stroke-width="2.4" stroke-linejoin="round"/>
<path d="M86.6,430.7 L96.7,429.4 L101.7,423.1 L94.2,421.9 L104.2,418.1" fill="none" stroke="#ff5000" stroke-width="2.4" stroke-linejoin="round"/>
<path d="M151.9,444 L164.5,430.7 L174.6,419.3 L184.6,410.6 L194.7,405.5 L209.7,400.5 L219.8,393 L232.3,387.9 L244.9,380.4 L257.5,370.4 L270,360.3 L280.1,356.5" fill="none" stroke="#d2ff00" stroke-width="1.8" stroke-linejoin="round"/>
<path d="M290.1,347.7 L300.2,340.2 L306.5,332.7 L309,325.1 L316.8,320.3 L323.1,314.8 L331,309.3 L338.8,306.1 L346.7,303 L354.5,301.4 L358.4,299.1 L351.4,298.3 L348.2,295.1 L353.1,294 L353.2,294 L351.9,290.7 L350.7,283.2 L354.5,275.6 L349.4,271.9 L341.9,268.1 L339.4,260.6 L344.4,255.5 L351.9,245.5 L359.5,237.9 L369.5,232.9 L382.1,220.4 L392.1,207.8 L404.7,197.7 L414.8,187.7 L427.3,182.7 L439.9,180.7 L444.9,185.2 L442.4,197.7 L443.6,210.3 L452.4,211.6 L462.5,205.3 L465,197.7 L467.5,186.4 L477.6,180.2 L487.6,171.4 L495.2,170.1 L500.2,177.1 L504,177.6 L519.1,173.9 L536.7,169.6 L554.3,171.4 L571.8,176.4 L586.9,177.6 L594.5,170.1 L604.5,162.6 L619.6,158.8 L628.4,163.8 L629.6,175.1 L639.7,183.9 L654.8,191.5 L664.8,194.7 L679.9,196.5 L692.4,201.5 L702.5,203.3 L712.5,200.3 L721.3,201.5 L727.6,210.3 L733.9,222.9 L738.9,232.9 L737.1,230 L739.7,240.5 L743.2,252.7 L750.2,261.4 L762.4,267.5 L776.4,271 L788.6,275.7 L797.3,276.8 L806,273.6 L818.2,270.1 L832.2,267.5 L844.4,264 L853.1,257.9 L861.9,251.8 L865.4,249.2" fill="none" stroke="#d2ff00" stroke-width="1.8" stroke-linejoin="round"/>
<path d="M169.5,444 L182.1,430.7 L192.1,420.6 L202.2,413.1 L217.3,408 L229.8,400.5 L242.4,393 L255,385.4 L267.5,375.4 L277.6,367.8 L290.1,357.8 L302.7,349 L315.3,341.5 L324.1,335.2 L324.1,332.9 L336.9,325.8 L339.8,318.6 L352.7,312.9 L358.4,308.6 L375.6,307.2 L381.3,298.6 L389.9,291.4 L398.5,290 L401.3,284.3 L395.6,280 L391.3,274.3" fill="none" stroke="#00e650" stroke-width="1.8" stroke-linejoin="round"/>
<path d="M182.1,444 L192.1,433.2 L204.7,423.1 L217.3,416.8 L232.3,408 L247.4,400.5 L262.5,390.5 L275.1,380.4 L287.6,371.6 L302.7,361.6 L315.3,354 L324.1,351.5 L324.1,350.7 L332.7,348.7 L355.6,348.1 L364.1,347 L364,347.7 L376.6,345.2 L389.1,340.2 L399.2,330.2 L409.2,317.6 L421.8,310.1 L439.4,305.5 L459.5,303 L479.6,304.5 L499.7,305.5 L514.8,307.5 L527.3,312.6 L539.9,321.4 L549.9,328.9 L565,335.2 L577.6,335.2 L585.1,342.7 L592.6,355.3 L602.7,365.3 L604,366.6 L616.6,369.1 L629.1,375.4 L641.7,385.4 L651.7,395.5 L659.3,405.5 L664.3,418.1 L666.8,430.7 L670.6,444" fill="none" stroke="#00ffe6" stroke-width="1.8" stroke-linejoin="round"/>
<path d="M197.2,444 L207.2,435.7 L219.8,428.1 L234.9,418.1 L249.9,410.6 L262.5,403" fill="none" stroke="#0096ff" stroke-width="1.8" stroke-linejoin="round"/>
<path d="M282.6,382.9 L295.2,375.4 L310.2,369.1 L324.1,365.3 L324.1,364.4 L332.7,363 L347,361.6 L355.6,361.6 L364.1,360.4 L364,361.6 L379.1,359 L394.2,352.8 L406.7,342.7 L421.8,330.2 L436.9,323.9 L454.5,320.1 L472,318.1 L489.6,318.1 L504.7,320.6 L519.8,326.4 L532.3,335.2 L544.9,346.5 L557.5,354 L572.5,362.8 L587.6,369.1 L602.7,375.4 L604,377.9 L616.6,381.7 L629.1,389.2 L639.2,399.2 L649.2,410.6 L656.8,423.1 L661.8,435.7 L664.3,444" fill="none" stroke="#0096ff" stroke-width="1.8" stroke-linejoin="round"/>
<path d="M214.8,444 L224.8,435.7 L239.9,425.6 L252.4,418.1 L265,410.6 L277.6,400.5 L290.1,390.5 L302.7,384.2 L315.3,380.4 L324.1,377.9 L324.1,378.2 L335.5,375.9 L355.6,374.4 L364.1,373.3 L364,374.1 L379.1,370.4 L394.2,364.1 L409.2,356.5 L424.3,349 L439.4,340.2 L451.9,333.9 L464.5,329.6 L479.6,328.9 L494.7,332.7 L509.7,338.9 L524.8,345.2 L532.3,354 L544.9,365.3 L560,374.1 L575.1,380.4 L590.1,386.7 L605.2,395.5 L604,391.7 L616.6,396.7 L629.1,405.5 L639.2,415.6 L648,428.1 L654.3,440.7 L655.5,444" fill="none" stroke="#0000ff" stroke-width="1.8" stroke-linejoin="round"/>
<path d="M239.9,444 L249.9,435.7 L265,425.6 L277.6,420.6 L290.1,416.8 L302.7,410.6 L315.3,403 L324.1,399.2 L324.1,401.1 L329.8,398.8 L349.8,394.5 L364.1,391.3 L364,390.5 L376.6,386.7 L391.6,380.4 L406.7,375.4 L421.8,366.6 L436.9,356.5 L449.4,349 L464.5,344.7 L477.1,345.2 L492.1,351.5 L499.7,360.3 L507.2,366.6 L519.8,364.8 L527.3,371.6 L537.4,380.4 L549.9,387.9 L565,394.2 L580.1,400.5 L595.2,408 L604,408 L614.1,413.1 L626.6,423.1 L636.7,433.2 L644.2,444" fill="none" stroke="#5000be" stroke-width="1.8" stroke-linejoin="round"/>
<path d="M280.1,444 L290.1,438.2 L302.7,434.4 L315.3,430.7 L324.1,427.6 L324.1,426.5 L341.2,421.7 L358.4,413.1 L364.1,410.2 L364,407.5 L379.1,401.8 L396.7,395.5 L411.7,386.7 L426.8,377.9 L439.4,369.1 L451.9,364.8 L467,362.8 L479.6,365.8 L489.6,372.9 L499.7,382.9 L509.7,391.7 L522.3,399.2 L537.4,403 L552.4,405.5 L567.5,409.3 L582.6,414.3 L597.7,420.6 L604,423.1 L614.1,428.1 L624.1,436.9 L631.6,444" fill="none" stroke="#8c008c" stroke-width="1.8" stroke-linejoin="round"/>
<path d="M246.3,148.7 L244.1,154.8 L241.1,160.1 L236.5,166.1 L231.2,173.2" fill="none" stroke="#f00000" stroke-width="1.8" stroke-linejoin="round"/>
<path d="M364,162.3 L355.2,163.9 L346.2,165.4 L337.1,168.1 L329.5,169.1 L322,164.6 L312.9,163.1 L303.8,162.3 L294.7,162.6 L285.7,163.6 L278.1,164.6 L270.5,169.9 L263,175.2 L259.2,182 L256.9,192.6 L256.2,206 L257.7,196 L257.2,211.1 L255.4,223.2 L251.6,235.3 L249.4,248.9 L246.3,262.5 L241.8,274.6 L238.8,282" fill="none" stroke="#ff5000" stroke-width="1.8" stroke-linejoin="round"/>
<path d="M229,230 L228.2,239.1 L223.7,247.4 L216.1,254.2 L208.5,258.8 L204,261.8" fill="none" stroke="#f00000" stroke-width="1.8" stroke-linejoin="round"/>
<path d="M762.2,249.6 L767.5,253.3 L775.1,255.6 L781.1,257.1" fill="none" stroke="#ffbe00" stroke-width="1.8" stroke-linejoin="round"/>
<path d="M797.8,260.2 L806.8,256.4 L815.9,252.6 L825,249.6 L832.5,246.5 L843.1,242 L852.2,236.7 L864,232.2" fill="none" stroke="#ffbe00" stroke-width="1.8" stroke-linejoin="round"/>
<path d="M787.2,251.1 L793.2,248.1 L797.8,246.5 L803.8,245" fill="none" stroke="#ff5000" stroke-width="1.8" stroke-linejoin="round"/>
<path d="M853,223.9 L858.3,220.1 L864,217.8" fill="none" stroke="#ff5000" stroke-width="1.8" stroke-linejoin="round"/>
<path d="M384.5,131.6 L389.4,125.5 L395.4,118.7 L401.5,112.7 L406,108.9" fill="none" stroke="#ff5000" stroke-width="1.8" stroke-linejoin="round"/>
<path d="M344,167.1 L353.1,164.1 L363.7,160.3 L374.2,156.5" fill="none" stroke="#ff5000" stroke-width="1.8" stroke-linejoin="round"/>
<path d="M409,168.6 L414.3,167.9" fill="none" stroke="#ffbe00" stroke-width="1.8" stroke-linejoin="round"/>
<path d="M430.2,164.1 L434.7,162.6" fill="none" stroke="#ffbe00" stroke-width="1.8" stroke-linejoin="round"/>
<path d="M454.4,155 L458.9,152.8" fill="none" stroke="#ffbe00" stroke-width="1.8" stroke-linejoin="round"/>
<path d="M490.7,148.2 L495.2,142.9" fill="none" stroke="#ffbe00" stroke-width="1.8" stroke-linejoin="round"/>
<path d="M77.3,173.2 L82.1,179 L86.7,188.8" fill="none" stroke="#ffbe00" stroke-width="1.8" stroke-linejoin="round"/>
<path d="M141.9,163.9 L145.7,172.2" fill="none" stroke="#ffbe00" stroke-width="1.8" stroke-linejoin="round"/>
<path d="M724,266.6 L725.7,273.6 L724.9,282.4 L731,285.8 L741.5,290.2 L750.2,295.4 L757.2,296.3 L760.6,299.8 L765.9,299.8 L772.9,305 L785.1,305 L800.8,305 L809.5,307.7 L818.2,306.8 L828.7,302.4 L835.7,294.6 L842.7,289.3 L849.7,284.1 L856.6,279.7 L865.4,275" fill="none" stroke="#00e650" stroke-width="1.8" stroke-linejoin="round"/>
<path d="M231.6,354.1 L236.2,350.1 L239.6,346.5" fill="none" stroke="#f00000" stroke-width="2.4" stroke-linejoin="round"/>
<path d="M98,442 L102,441.5 L104,438" fill="none" stroke="#f00000" stroke-width="1.6" stroke-linejoin="round"/>
<path d="M256.9,337.9 L261.5,334.5" fill="none" stroke="#f00000" stroke-width="2.0" stroke-linejoin="round"/>
<path d="M283.1,309.3 L287,308.5 L290.4,310.1 L289.3,312.4 L284.6,312.1 L283.1,309.6 L281.5,316.5 L279.9,314 L276,313.3 L272.8,315.9" fill="none" stroke="#ffbe00" stroke-width="1.5" stroke-linejoin="round"/></g>
<rect x="130" y="45" width="1" height="399" fill="#fff"/>
<rect x="263" y="45" width="1" height="399" fill="#fff"/>
<rect x="396" y="45" width="1" height="399" fill="#fff"/>
<rect x="530" y="45" width="1" height="399" fill="#fff"/>
<rect x="663" y="45" width="1" height="399" fill="#fff"/>
<rect x="796" y="45" width="1" height="399" fill="#fff"/>
<rect x="65" y="122" width="799" height="1" fill="#fff"/>
<rect x="65" y="198" width="799" height="1" fill="#fff"/>
<rect x="65" y="275" width="799" height="1" fill="#fff"/>
<rect x="65" y="350" width="799" height="1" fill="#fff"/>
<rect x="65" y="426" width="799" height="1" fill="#fff"/>
</g>
<rect x="64.5" y="44.5" width="800" height="400" fill="none" stroke="#000" stroke-width="1"/>
<g>
<circle cx="837.3" cy="545.5" r="25" fill="#1818d6"/>
<circle cx="837.3" cy="545.5" r="19.8" fill="#f6f000"/>
<defs><path id="lgt" d="M816.0,545.5 A21.3,21.3 0 0 1 858.5999999999999,545.5"/><path id="lgb" d="M813.6999999999999,545.5 A23.6,23.6 0 0 0 860.9,545.5"/></defs>
<text font-size="3.5" style="fill:#dcdc78" letter-spacing="0.05"><textPath href="#lgt" startOffset="50%" text-anchor="middle">NAVAL RESEARCH LABORATORY</textPath></text>
<text font-size="3.5" style="fill:#dcdc78" letter-spacing="0.05"><textPath href="#lgb" startOffset="50%" text-anchor="middle">STENNIS SPACE CENTER, MS</textPath></text>
<path d="M825,531.4 L849,531.4 L848.6,545 Q847.5,556 842,560.2 L836.9,563.2 L831.5,560.2 Q826.3,556 825,545 Z" fill="#f6f000" stroke="#5a5ac0" stroke-width="0.6"/>
<clipPath id="shc"><path d="M825,531.4 L849,531.4 L848.6,545 Q847.5,556 842,560.2 L836.9,563.2 L831.5,560.2 Q826.3,556 825,545 Z"/></clipPath>
<g clip-path="url(#shc)">
<path d="M826.6,532.2 L836.6,531.6 L836.6,544.6 L827,544.6 Z" fill="#1818d6"/>
<rect x="836.9" y="544.9" width="13" height="20" fill="#1818d6"/>
<path d="M840,549 l2,-1.5 l1.5,2 l-1,2 l1.5,3 l-2,2 l-1.5,-3 z" fill="#f6f000" opacity="0.85"/>
<path d="M838,556 l2,1 l-1,4 z M845,548 l1,2 l-1.5,1z" fill="#f6f000" opacity="0.7"/>
</g>
<path d="M829.4,536 l1.2,2.6 l1.2,-1.6 l1.2,1.6 l1.2,-2.6 l-0.6,4.4 l-3.6,0 z M830,541.6 h4" fill="none" stroke="#b8b8d8" stroke-width="0.7"/>
<path d="M842.6,534.6 v6.6 M840.8,536 v3 M844.4,536 v3 M840.2,541.4 h5 M841,539.4 h3.4" fill="none" stroke="#1818d6" stroke-width="0.7"/>
<circle cx="830.6" cy="553.2" r="4" fill="none" stroke="#4a4ab8" stroke-width="0.7"/>
<path d="M828.6,553.6 l1,-1.6 l1,2.2 l1,-2.2 l1,1.6" fill="none" stroke="#4a4ab8" stroke-width="0.6"/>
</g>
</svg></body></html>
